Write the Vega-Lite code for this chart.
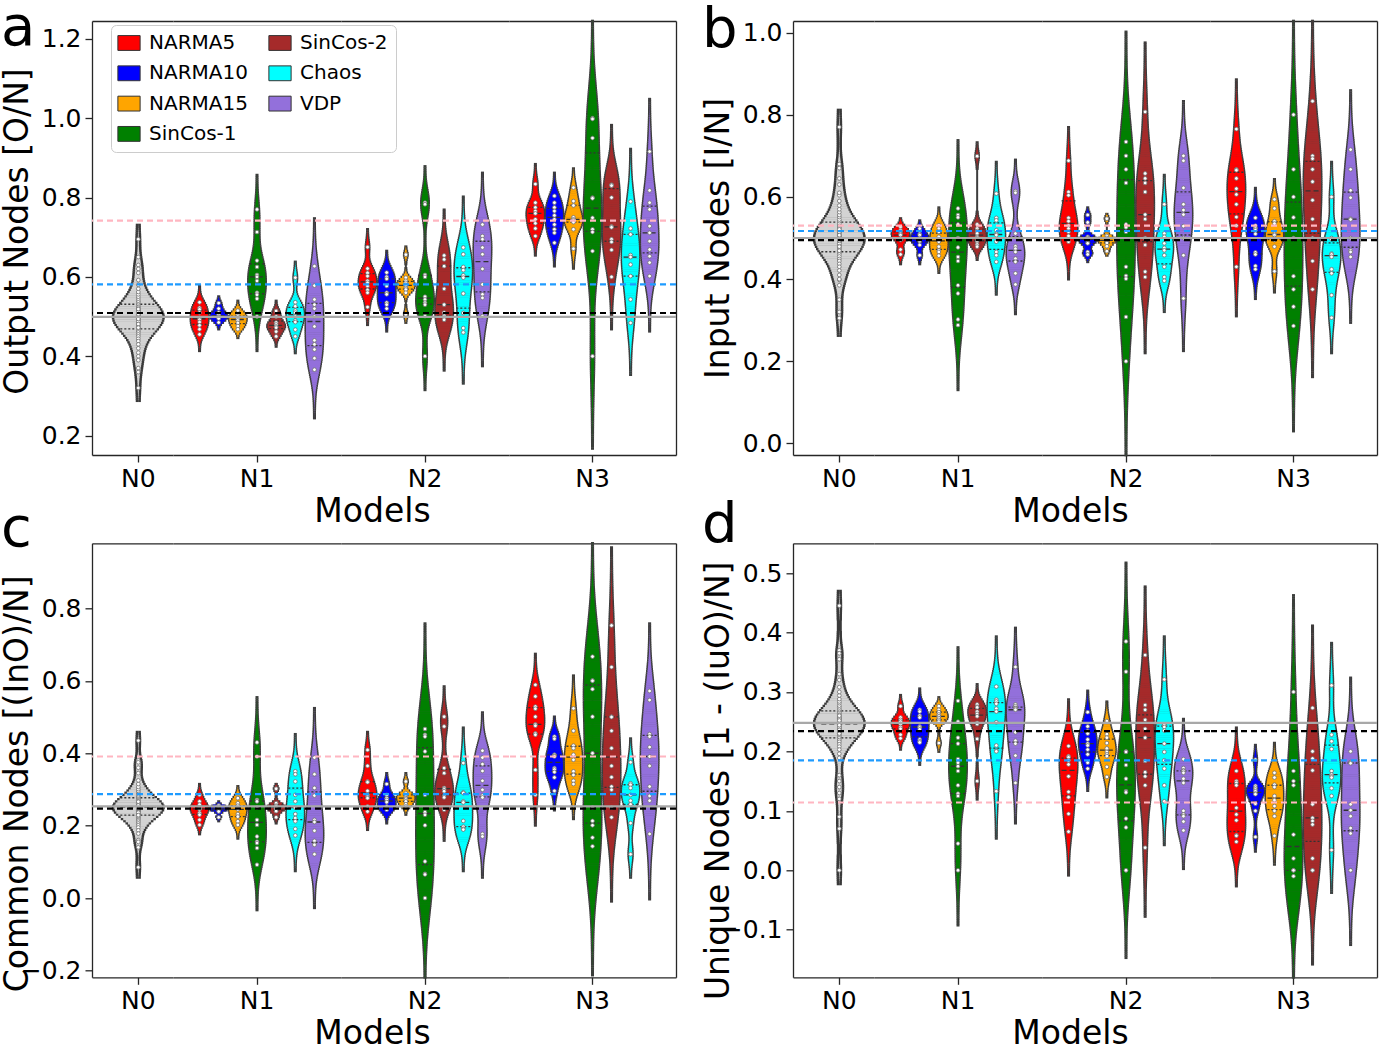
{"$schema":"https://vega.github.io/schema/vega-lite/v6.json","background":"white","padding":{"left":0,"top":0,"right":0,"bottom":0},
"config":{"font":"DejaVu Sans","view":{"stroke":null},"axis":{"labelFont":"DejaVu Sans","labelFontSize":25,"labelColor":"#000000","titleFont":"DejaVu Sans","titleFontSize":33,"titleFontWeight":"normal","titleColor":"#000000","tickColor":"#262626","tickSize":7,"tickWidth":1.3,"domainColor":"#262626","domainWidth":1.3,"grid":false,"labelPadding":4,"labelOverlap":false},"axisX":{"labelAngle":0},"title":{"font":"DejaVu Sans","fontWeight":"normal","color":"#000000"},"tick":{"orient":"horizontal","thickness":2.6,"opacity":1},"point":{"shape":"circle","size":14,"filled":true,"fill":"#ffffff","stroke":"#6e6e6e","strokeWidth":0.8,"opacity":1},"legend":{"labelFont":"DejaVu Sans"}},
"datasets":{
"refs":[{"p":"a","k":"pink","v":0.742},{"p":"a","k":"blue","v":0.581},{"p":"a","k":"grey","v":0.499},{"p":"a","k":"black","v":0.509},{"p":"b","k":"pink","v":0.53},{"p":"b","k":"blue","v":0.517},{"p":"b","k":"grey","v":0.5},{"p":"b","k":"black","v":0.495},{"p":"c","k":"pink","v":0.391},{"p":"c","k":"blue","v":0.287},{"p":"c","k":"grey","v":0.253},{"p":"c","k":"black","v":0.247},{"p":"d","k":"pink","v":0.114},{"p":"d","k":"blue","v":0.185},{"p":"d","k":"grey","v":0.248},{"p":"d","k":"black","v":0.234}],
"aN0":[{"t":"N0","v":0.5},{"t":"N0","v":0.502},{"t":"N0","v":0.497},{"t":"N0","v":0.505},{"t":"N0","v":0.495},{"t":"N0","v":0.508},{"t":"N0","v":0.492},{"t":"N0","v":0.511},{"t":"N0","v":0.489},{"t":"N0","v":0.514},{"t":"N0","v":0.486},{"t":"N0","v":0.517},{"t":"N0","v":0.483},{"t":"N0","v":0.521},{"t":"N0","v":0.479},{"t":"N0","v":0.524},{"t":"N0","v":0.476},{"t":"N0","v":0.528},{"t":"N0","v":0.472},{"t":"N0","v":0.532},{"t":"N0","v":0.468},{"t":"N0","v":0.536},{"t":"N0","v":0.464},{"t":"N0","v":0.54},{"t":"N0","v":0.46},{"t":"N0","v":0.545},{"t":"N0","v":0.455},{"t":"N0","v":0.55},{"t":"N0","v":0.45},{"t":"N0","v":0.556},{"t":"N0","v":0.444},{"t":"N0","v":0.562},{"t":"N0","v":0.438},{"t":"N0","v":0.57},{"t":"N0","v":0.43},{"t":"N0","v":0.58},{"t":"N0","v":0.42},{"t":"N0","v":0.592},{"t":"N0","v":0.409},{"t":"N0","v":0.499},{"t":"N0","v":0.503},{"t":"N0","v":0.488},{"t":"N0","v":0.513},{"t":"N0","v":0.506},{"t":"N0","v":0.494},{"t":"N0","v":0.481},{"t":"N0","v":0.519},{"t":"N0","v":0.472},{"t":"N0","v":0.695},{"t":"N0","v":0.65},{"t":"N0","v":0.63},{"t":"N0","v":0.62},{"t":"N0","v":0.61},{"t":"N0","v":0.4},{"t":"N0","v":0.39},{"t":"N0","v":0.37},{"t":"N0","v":0.36},{"t":"N0","v":0.32}],
"aN1":[{"t":"NARMA5","v":0.536},{"t":"NARMA5","v":0.522},{"t":"NARMA5","v":0.518},{"t":"NARMA5","v":0.51},{"t":"NARMA5","v":0.497},{"t":"NARMA5","v":0.492},{"t":"NARMA5","v":0.486},{"t":"NARMA5","v":0.478},{"t":"NARMA5","v":0.468},{"t":"NARMA5","v":0.455},{"t":"NARMA10","v":0.534},{"t":"NARMA10","v":0.52},{"t":"NARMA10","v":0.51},{"t":"NARMA10","v":0.505},{"t":"NARMA10","v":0.5},{"t":"NARMA10","v":0.498},{"t":"NARMA10","v":0.495},{"t":"NARMA10","v":0.485},{"t":"NARMA15","v":0.515},{"t":"NARMA15","v":0.505},{"t":"NARMA15","v":0.5},{"t":"NARMA15","v":0.495},{"t":"NARMA15","v":0.49},{"t":"NARMA15","v":0.484},{"t":"NARMA15","v":0.476},{"t":"NARMA15","v":0.468},{"t":"SinCos-1","v":0.77},{"t":"SinCos-1","v":0.713},{"t":"SinCos-1","v":0.641},{"t":"SinCos-1","v":0.625},{"t":"SinCos-1","v":0.605},{"t":"SinCos-1","v":0.6},{"t":"SinCos-1","v":0.59},{"t":"SinCos-1","v":0.56},{"t":"SinCos-1","v":0.555},{"t":"SinCos-1","v":0.545},{"t":"SinCos-1","v":0.5},{"t":"SinCos-2","v":0.514},{"t":"SinCos-2","v":0.5},{"t":"SinCos-2","v":0.485},{"t":"SinCos-2","v":0.48},{"t":"SinCos-2","v":0.475},{"t":"SinCos-2","v":0.472},{"t":"SinCos-2","v":0.462},{"t":"SinCos-2","v":0.45},{"t":"Chaos","v":0.598},{"t":"Chaos","v":0.536},{"t":"Chaos","v":0.526},{"t":"Chaos","v":0.515},{"t":"Chaos","v":0.51},{"t":"Chaos","v":0.5},{"t":"Chaos","v":0.49},{"t":"Chaos","v":0.486},{"t":"Chaos","v":0.467},{"t":"Chaos","v":0.45},{"t":"VDP","v":0.627},{"t":"VDP","v":0.578},{"t":"VDP","v":0.543},{"t":"VDP","v":0.53},{"t":"VDP","v":0.52},{"t":"VDP","v":0.5},{"t":"VDP","v":0.475},{"t":"VDP","v":0.44},{"t":"VDP","v":0.43},{"t":"VDP","v":0.417},{"t":"VDP","v":0.395},{"t":"VDP","v":0.366}],
"aN2":[{"t":"NARMA5","v":0.675},{"t":"NARMA5","v":0.621},{"t":"NARMA5","v":0.61},{"t":"NARMA5","v":0.602},{"t":"NARMA5","v":0.59},{"t":"NARMA5","v":0.585},{"t":"NARMA5","v":0.577},{"t":"NARMA5","v":0.567},{"t":"NARMA5","v":0.56},{"t":"NARMA5","v":0.524},{"t":"NARMA10","v":0.611},{"t":"NARMA10","v":0.6},{"t":"NARMA10","v":0.595},{"t":"NARMA10","v":0.577},{"t":"NARMA10","v":0.56},{"t":"NARMA10","v":0.556},{"t":"NARMA10","v":0.535},{"t":"NARMA10","v":0.53},{"t":"NARMA10","v":0.52},{"t":"NARMA15","v":0.656},{"t":"NARMA15","v":0.598},{"t":"NARMA15","v":0.59},{"t":"NARMA15","v":0.585},{"t":"NARMA15","v":0.58},{"t":"NARMA15","v":0.577},{"t":"NARMA15","v":0.572},{"t":"NARMA15","v":0.568},{"t":"NARMA15","v":0.56},{"t":"NARMA15","v":0.505},{"t":"SinCos-1","v":0.787},{"t":"SinCos-1","v":0.783},{"t":"SinCos-1","v":0.605},{"t":"SinCos-1","v":0.6},{"t":"SinCos-1","v":0.55},{"t":"SinCos-1","v":0.543},{"t":"SinCos-1","v":0.535},{"t":"SinCos-1","v":0.53},{"t":"SinCos-1","v":0.501},{"t":"SinCos-1","v":0.4},{"t":"SinCos-2","v":0.654},{"t":"SinCos-2","v":0.644},{"t":"SinCos-2","v":0.627},{"t":"SinCos-2","v":0.57},{"t":"SinCos-2","v":0.53},{"t":"SinCos-2","v":0.51},{"t":"SinCos-2","v":0.502},{"t":"SinCos-2","v":0.497},{"t":"SinCos-2","v":0.492},{"t":"Chaos","v":0.674},{"t":"Chaos","v":0.657},{"t":"Chaos","v":0.625},{"t":"Chaos","v":0.617},{"t":"Chaos","v":0.604},{"t":"Chaos","v":0.598},{"t":"Chaos","v":0.558},{"t":"Chaos","v":0.509},{"t":"Chaos","v":0.471},{"t":"Chaos","v":0.46},{"t":"VDP","v":0.732},{"t":"VDP","v":0.703},{"t":"VDP","v":0.695},{"t":"VDP","v":0.674},{"t":"VDP","v":0.657},{"t":"VDP","v":0.62},{"t":"VDP","v":0.581},{"t":"VDP","v":0.556},{"t":"VDP","v":0.547},{"t":"VDP","v":0.501}],
"aN3":[{"t":"NARMA5","v":0.834},{"t":"NARMA5","v":0.787},{"t":"NARMA5","v":0.775},{"t":"NARMA5","v":0.766},{"t":"NARMA5","v":0.76},{"t":"NARMA5","v":0.745},{"t":"NARMA5","v":0.735},{"t":"NARMA5","v":0.722},{"t":"NARMA5","v":0.703},{"t":"NARMA10","v":0.804},{"t":"NARMA10","v":0.787},{"t":"NARMA10","v":0.775},{"t":"NARMA10","v":0.766},{"t":"NARMA10","v":0.755},{"t":"NARMA10","v":0.745},{"t":"NARMA10","v":0.732},{"t":"NARMA10","v":0.72},{"t":"NARMA10","v":0.711},{"t":"NARMA10","v":0.686},{"t":"NARMA15","v":0.825},{"t":"NARMA15","v":0.791},{"t":"NARMA15","v":0.78},{"t":"NARMA15","v":0.75},{"t":"NARMA15","v":0.745},{"t":"NARMA15","v":0.742},{"t":"NARMA15","v":0.738},{"t":"NARMA15","v":0.72},{"t":"NARMA15","v":0.671},{"t":"SinCos-1","v":1.0},{"t":"SinCos-1","v":0.998},{"t":"SinCos-1","v":0.95},{"t":"SinCos-1","v":0.8},{"t":"SinCos-1","v":0.798},{"t":"SinCos-1","v":0.749},{"t":"SinCos-1","v":0.72},{"t":"SinCos-1","v":0.713},{"t":"SinCos-1","v":0.665},{"t":"SinCos-1","v":0.4},{"t":"SinCos-2","v":0.832},{"t":"SinCos-2","v":0.832},{"t":"SinCos-2","v":0.83},{"t":"SinCos-2","v":0.8},{"t":"SinCos-2","v":0.727},{"t":"SinCos-2","v":0.725},{"t":"SinCos-2","v":0.695},{"t":"SinCos-2","v":0.688},{"t":"SinCos-2","v":0.668},{"t":"SinCos-2","v":0.6},{"t":"Chaos","v":0.79},{"t":"Chaos","v":0.722},{"t":"Chaos","v":0.707},{"t":"Chaos","v":0.655},{"t":"Chaos","v":0.65},{"t":"Chaos","v":0.631},{"t":"Chaos","v":0.602},{"t":"Chaos","v":0.543},{"t":"Chaos","v":0.484},{"t":"VDP","v":0.916},{"t":"VDP","v":0.818},{"t":"VDP","v":0.787},{"t":"VDP","v":0.77},{"t":"VDP","v":0.728},{"t":"VDP","v":0.711},{"t":"VDP","v":0.69},{"t":"VDP","v":0.669},{"t":"VDP","v":0.652},{"t":"VDP","v":0.636},{"t":"VDP","v":0.602}],
"bN0":[{"t":"N0","v":0.5},{"t":"N0","v":0.502},{"t":"N0","v":0.497},{"t":"N0","v":0.506},{"t":"N0","v":0.494},{"t":"N0","v":0.509},{"t":"N0","v":0.491},{"t":"N0","v":0.512},{"t":"N0","v":0.488},{"t":"N0","v":0.516},{"t":"N0","v":0.484},{"t":"N0","v":0.519},{"t":"N0","v":0.481},{"t":"N0","v":0.524},{"t":"N0","v":0.476},{"t":"N0","v":0.527},{"t":"N0","v":0.473},{"t":"N0","v":0.532},{"t":"N0","v":0.469},{"t":"N0","v":0.536},{"t":"N0","v":0.464},{"t":"N0","v":0.541},{"t":"N0","v":0.46},{"t":"N0","v":0.545},{"t":"N0","v":0.455},{"t":"N0","v":0.551},{"t":"N0","v":0.449},{"t":"N0","v":0.556},{"t":"N0","v":0.444},{"t":"N0","v":0.563},{"t":"N0","v":0.437},{"t":"N0","v":0.57},{"t":"N0","v":0.43},{"t":"N0","v":0.579},{"t":"N0","v":0.421},{"t":"N0","v":0.59},{"t":"N0","v":0.41},{"t":"N0","v":0.604},{"t":"N0","v":0.398},{"t":"N0","v":0.499},{"t":"N0","v":0.503},{"t":"N0","v":0.487},{"t":"N0","v":0.515},{"t":"N0","v":0.507},{"t":"N0","v":0.493},{"t":"N0","v":0.479},{"t":"N0","v":0.521},{"t":"N0","v":0.469},{"t":"N0","v":0.77},{"t":"N0","v":0.68},{"t":"N0","v":0.67},{"t":"N0","v":0.645},{"t":"N0","v":0.63},{"t":"N0","v":0.61},{"t":"N0","v":0.4},{"t":"N0","v":0.385},{"t":"N0","v":0.35},{"t":"N0","v":0.32},{"t":"N0","v":0.305}],
"bN1":[{"t":"NARMA5","v":0.527},{"t":"NARMA5","v":0.519},{"t":"NARMA5","v":0.515},{"t":"NARMA5","v":0.51},{"t":"NARMA5","v":0.507},{"t":"NARMA5","v":0.5},{"t":"NARMA5","v":0.495},{"t":"NARMA5","v":0.472},{"t":"NARMA5","v":0.46},{"t":"NARMA10","v":0.523},{"t":"NARMA10","v":0.51},{"t":"NARMA10","v":0.507},{"t":"NARMA10","v":0.5},{"t":"NARMA10","v":0.495},{"t":"NARMA10","v":0.492},{"t":"NARMA10","v":0.483},{"t":"NARMA10","v":0.458},{"t":"NARMA15","v":0.531},{"t":"NARMA15","v":0.523},{"t":"NARMA15","v":0.515},{"t":"NARMA15","v":0.503},{"t":"NARMA15","v":0.495},{"t":"NARMA15","v":0.491},{"t":"NARMA15","v":0.479},{"t":"NARMA15","v":0.47},{"t":"NARMA15","v":0.466},{"t":"NARMA15","v":0.457},{"t":"SinCos-1","v":0.572},{"t":"SinCos-1","v":0.556},{"t":"SinCos-1","v":0.55},{"t":"SinCos-1","v":0.533},{"t":"SinCos-1","v":0.5},{"t":"SinCos-1","v":0.477},{"t":"SinCos-1","v":0.454},{"t":"SinCos-1","v":0.444},{"t":"SinCos-1","v":0.385},{"t":"SinCos-1","v":0.365},{"t":"SinCos-1","v":0.302},{"t":"SinCos-1","v":0.288},{"t":"SinCos-2","v":0.699},{"t":"SinCos-2","v":0.533},{"t":"SinCos-2","v":0.523},{"t":"SinCos-2","v":0.517},{"t":"SinCos-2","v":0.511},{"t":"SinCos-2","v":0.503},{"t":"SinCos-2","v":0.5},{"t":"SinCos-2","v":0.491},{"t":"SinCos-2","v":0.484},{"t":"SinCos-2","v":0.479},{"t":"Chaos","v":0.608},{"t":"Chaos","v":0.549},{"t":"Chaos","v":0.543},{"t":"Chaos","v":0.519},{"t":"Chaos","v":0.51},{"t":"Chaos","v":0.507},{"t":"Chaos","v":0.491},{"t":"Chaos","v":0.466},{"t":"Chaos","v":0.458},{"t":"Chaos","v":0.442},{"t":"VDP","v":0.614},{"t":"VDP","v":0.61},{"t":"VDP","v":0.511},{"t":"VDP","v":0.48},{"t":"VDP","v":0.474},{"t":"VDP","v":0.466},{"t":"VDP","v":0.45},{"t":"VDP","v":0.442},{"t":"VDP","v":0.414},{"t":"VDP","v":0.387}],
"bN2":[{"t":"NARMA5","v":0.688},{"t":"NARMA5","v":0.612},{"t":"NARMA5","v":0.604},{"t":"NARMA5","v":0.549},{"t":"NARMA5","v":0.541},{"t":"NARMA5","v":0.53},{"t":"NARMA5","v":0.523},{"t":"NARMA5","v":0.515},{"t":"NARMA5","v":0.505},{"t":"NARMA5","v":0.491},{"t":"NARMA10","v":0.556},{"t":"NARMA10","v":0.538},{"t":"NARMA10","v":0.503},{"t":"NARMA10","v":0.5},{"t":"NARMA10","v":0.497},{"t":"NARMA10","v":0.49},{"t":"NARMA10","v":0.487},{"t":"NARMA10","v":0.466},{"t":"NARMA10","v":0.46},{"t":"NARMA15","v":0.547},{"t":"NARMA15","v":0.505},{"t":"NARMA15","v":0.5},{"t":"NARMA15","v":0.497},{"t":"NARMA15","v":0.494},{"t":"NARMA15","v":0.491},{"t":"NARMA15","v":0.488},{"t":"NARMA15","v":0.48},{"t":"NARMA15","v":0.468},{"t":"SinCos-1","v":0.734},{"t":"SinCos-1","v":0.7},{"t":"SinCos-1","v":0.667},{"t":"SinCos-1","v":0.634},{"t":"SinCos-1","v":0.533},{"t":"SinCos-1","v":0.526},{"t":"SinCos-1","v":0.515},{"t":"SinCos-1","v":0.43},{"t":"SinCos-1","v":0.408},{"t":"SinCos-1","v":0.401},{"t":"SinCos-1","v":0.308},{"t":"SinCos-1","v":0.2},{"t":"SinCos-2","v":0.807},{"t":"SinCos-2","v":0.657},{"t":"SinCos-2","v":0.645},{"t":"SinCos-2","v":0.634},{"t":"SinCos-2","v":0.612},{"t":"SinCos-2","v":0.557},{"t":"SinCos-2","v":0.546},{"t":"SinCos-2","v":0.5},{"t":"SinCos-2","v":0.483},{"t":"SinCos-2","v":0.418},{"t":"SinCos-2","v":0.405},{"t":"Chaos","v":0.582},{"t":"Chaos","v":0.511},{"t":"Chaos","v":0.503},{"t":"Chaos","v":0.487},{"t":"Chaos","v":0.476},{"t":"Chaos","v":0.47},{"t":"Chaos","v":0.458},{"t":"Chaos","v":0.43},{"t":"Chaos","v":0.405},{"t":"Chaos","v":0.396},{"t":"VDP","v":0.7},{"t":"VDP","v":0.688},{"t":"VDP","v":0.622},{"t":"VDP","v":0.582},{"t":"VDP","v":0.568},{"t":"VDP","v":0.557},{"t":"VDP","v":0.529},{"t":"VDP","v":0.5},{"t":"VDP","v":0.458},{"t":"VDP","v":0.353}],
"bN3":[{"t":"NARMA5","v":0.765},{"t":"NARMA5","v":0.667},{"t":"NARMA5","v":0.665},{"t":"NARMA5","v":0.645},{"t":"NARMA5","v":0.62},{"t":"NARMA5","v":0.606},{"t":"NARMA5","v":0.582},{"t":"NARMA5","v":0.551},{"t":"NARMA5","v":0.53},{"t":"NARMA5","v":0.43},{"t":"NARMA10","v":0.549},{"t":"NARMA10","v":0.53},{"t":"NARMA10","v":0.525},{"t":"NARMA10","v":0.523},{"t":"NARMA10","v":0.519},{"t":"NARMA10","v":0.51},{"t":"NARMA10","v":0.465},{"t":"NARMA10","v":0.46},{"t":"NARMA10","v":0.432},{"t":"NARMA10","v":0.424},{"t":"NARMA15","v":0.594},{"t":"NARMA15","v":0.572},{"t":"NARMA15","v":0.541},{"t":"NARMA15","v":0.535},{"t":"NARMA15","v":0.51},{"t":"NARMA15","v":0.507},{"t":"NARMA15","v":0.5},{"t":"NARMA15","v":0.495},{"t":"NARMA15","v":0.479},{"t":"NARMA15","v":0.419},{"t":"SinCos-1","v":0.8},{"t":"SinCos-1","v":0.667},{"t":"SinCos-1","v":0.6},{"t":"SinCos-1","v":0.55},{"t":"SinCos-1","v":0.5},{"t":"SinCos-1","v":0.498},{"t":"SinCos-1","v":0.407},{"t":"SinCos-1","v":0.375},{"t":"SinCos-1","v":0.333},{"t":"SinCos-1","v":0.286},{"t":"SinCos-2","v":0.833},{"t":"SinCos-2","v":0.7},{"t":"SinCos-2","v":0.693},{"t":"SinCos-2","v":0.667},{"t":"SinCos-2","v":0.637},{"t":"SinCos-2","v":0.592},{"t":"SinCos-2","v":0.546},{"t":"SinCos-2","v":0.5},{"t":"SinCos-2","v":0.444},{"t":"SinCos-2","v":0.375},{"t":"Chaos","v":0.6},{"t":"Chaos","v":0.5},{"t":"Chaos","v":0.497},{"t":"Chaos","v":0.462},{"t":"Chaos","v":0.46},{"t":"Chaos","v":0.454},{"t":"Chaos","v":0.424},{"t":"Chaos","v":0.414},{"t":"Chaos","v":0.361},{"t":"Chaos","v":0.306},{"t":"VDP","v":0.715},{"t":"VDP","v":0.667},{"t":"VDP","v":0.616},{"t":"VDP","v":0.598},{"t":"VDP","v":0.547},{"t":"VDP","v":0.545},{"t":"VDP","v":0.5},{"t":"VDP","v":0.47},{"t":"VDP","v":0.466},{"t":"VDP","v":0.454}],
"cN0":[{"t":"N0","v":0.251},{"t":"N0","v":0.253},{"t":"N0","v":0.249},{"t":"N0","v":0.255},{"t":"N0","v":0.247},{"t":"N0","v":0.257},{"t":"N0","v":0.245},{"t":"N0","v":0.26},{"t":"N0","v":0.242},{"t":"N0","v":0.262},{"t":"N0","v":0.24},{"t":"N0","v":0.265},{"t":"N0","v":0.237},{"t":"N0","v":0.268},{"t":"N0","v":0.234},{"t":"N0","v":0.27},{"t":"N0","v":0.232},{"t":"N0","v":0.273},{"t":"N0","v":0.229},{"t":"N0","v":0.277},{"t":"N0","v":0.225},{"t":"N0","v":0.28},{"t":"N0","v":0.222},{"t":"N0","v":0.283},{"t":"N0","v":0.219},{"t":"N0","v":0.287},{"t":"N0","v":0.215},{"t":"N0","v":0.291},{"t":"N0","v":0.211},{"t":"N0","v":0.296},{"t":"N0","v":0.206},{"t":"N0","v":0.301},{"t":"N0","v":0.201},{"t":"N0","v":0.307},{"t":"N0","v":0.195},{"t":"N0","v":0.315},{"t":"N0","v":0.187},{"t":"N0","v":0.325},{"t":"N0","v":0.178},{"t":"N0","v":0.25},{"t":"N0","v":0.253},{"t":"N0","v":0.241},{"t":"N0","v":0.261},{"t":"N0","v":0.256},{"t":"N0","v":0.246},{"t":"N0","v":0.236},{"t":"N0","v":0.266},{"t":"N0","v":0.229},{"t":"N0","v":0.435},{"t":"N0","v":0.38},{"t":"N0","v":0.375},{"t":"N0","v":0.36},{"t":"N0","v":0.345},{"t":"N0","v":0.16},{"t":"N0","v":0.155},{"t":"N0","v":0.14},{"t":"N0","v":0.085}],
"cN1":[{"t":"NARMA5","v":0.285},{"t":"NARMA5","v":0.267},{"t":"NARMA5","v":0.258},{"t":"NARMA5","v":0.25},{"t":"NARMA5","v":0.248},{"t":"NARMA5","v":0.245},{"t":"NARMA5","v":0.235},{"t":"NARMA5","v":0.23},{"t":"NARMA5","v":0.216},{"t":"NARMA5","v":0.202},{"t":"NARMA10","v":0.256},{"t":"NARMA10","v":0.252},{"t":"NARMA10","v":0.248},{"t":"NARMA10","v":0.246},{"t":"NARMA10","v":0.244},{"t":"NARMA10","v":0.239},{"t":"NARMA10","v":0.223},{"t":"NARMA15","v":0.276},{"t":"NARMA15","v":0.262},{"t":"NARMA15","v":0.255},{"t":"NARMA15","v":0.248},{"t":"NARMA15","v":0.245},{"t":"NARMA15","v":0.232},{"t":"NARMA15","v":0.225},{"t":"NARMA15","v":0.212},{"t":"NARMA15","v":0.202},{"t":"SinCos-1","v":0.43},{"t":"SinCos-1","v":0.391},{"t":"SinCos-1","v":0.271},{"t":"SinCos-1","v":0.267},{"t":"SinCos-1","v":0.25},{"t":"SinCos-1","v":0.216},{"t":"SinCos-1","v":0.202},{"t":"SinCos-1","v":0.17},{"t":"SinCos-1","v":0.156},{"t":"SinCos-1","v":0.152},{"t":"SinCos-1","v":0.138},{"t":"SinCos-1","v":0.092},{"t":"SinCos-2","v":0.302},{"t":"SinCos-2","v":0.262},{"t":"SinCos-2","v":0.255},{"t":"SinCos-2","v":0.253},{"t":"SinCos-2","v":0.248},{"t":"SinCos-2","v":0.244},{"t":"SinCos-2","v":0.24},{"t":"SinCos-2","v":0.223},{"t":"Chaos","v":0.35},{"t":"Chaos","v":0.342},{"t":"Chaos","v":0.322},{"t":"Chaos","v":0.285},{"t":"Chaos","v":0.267},{"t":"Chaos","v":0.25},{"t":"Chaos","v":0.232},{"t":"Chaos","v":0.221},{"t":"Chaos","v":0.212},{"t":"Chaos","v":0.191},{"t":"Chaos","v":0.173},{"t":"VDP","v":0.388},{"t":"VDP","v":0.342},{"t":"VDP","v":0.304},{"t":"VDP","v":0.283},{"t":"VDP","v":0.216},{"t":"VDP","v":0.21},{"t":"VDP","v":0.186},{"t":"VDP","v":0.158},{"t":"VDP","v":0.149},{"t":"VDP","v":0.147},{"t":"VDP","v":0.121}],
"cN2":[{"t":"NARMA5","v":0.409},{"t":"NARMA5","v":0.365},{"t":"NARMA5","v":0.322},{"t":"NARMA5","v":0.32},{"t":"NARMA5","v":0.296},{"t":"NARMA5","v":0.285},{"t":"NARMA5","v":0.28},{"t":"NARMA5","v":0.276},{"t":"NARMA5","v":0.253},{"t":"NARMA5","v":0.239},{"t":"NARMA10","v":0.315},{"t":"NARMA10","v":0.285},{"t":"NARMA10","v":0.276},{"t":"NARMA10","v":0.271},{"t":"NARMA10","v":0.265},{"t":"NARMA10","v":0.253},{"t":"NARMA10","v":0.246},{"t":"NARMA10","v":0.244},{"t":"NARMA15","v":0.322},{"t":"NARMA15","v":0.29},{"t":"NARMA15","v":0.285},{"t":"NARMA15","v":0.28},{"t":"NARMA15","v":0.276},{"t":"NARMA15","v":0.272},{"t":"NARMA15","v":0.267},{"t":"NARMA15","v":0.259},{"t":"NARMA15","v":0.253},{"t":"SinCos-1","v":0.467},{"t":"SinCos-1","v":0.451},{"t":"SinCos-1","v":0.446},{"t":"SinCos-1","v":0.405},{"t":"SinCos-1","v":0.285},{"t":"SinCos-1","v":0.237},{"t":"SinCos-1","v":0.23},{"t":"SinCos-1","v":0.201},{"t":"SinCos-1","v":0.101},{"t":"SinCos-1","v":0.067},{"t":"SinCos-1","v":0.065},{"t":"SinCos-1","v":0.0},{"t":"SinCos-2","v":0.501},{"t":"SinCos-2","v":0.474},{"t":"SinCos-2","v":0.359},{"t":"SinCos-2","v":0.345},{"t":"SinCos-2","v":0.304},{"t":"SinCos-2","v":0.3},{"t":"SinCos-2","v":0.295},{"t":"SinCos-2","v":0.282},{"t":"SinCos-2","v":0.278},{"t":"SinCos-2","v":0.244},{"t":"Chaos","v":0.373},{"t":"Chaos","v":0.292},{"t":"Chaos","v":0.29},{"t":"Chaos","v":0.267},{"t":"Chaos","v":0.264},{"t":"Chaos","v":0.213},{"t":"Chaos","v":0.197},{"t":"Chaos","v":0.191},{"t":"Chaos","v":0.189},{"t":"VDP","v":0.407},{"t":"VDP","v":0.388},{"t":"VDP","v":0.37},{"t":"VDP","v":0.351},{"t":"VDP","v":0.324},{"t":"VDP","v":0.299},{"t":"VDP","v":0.283},{"t":"VDP","v":0.278},{"t":"VDP","v":0.177},{"t":"VDP","v":0.17}],
"cN3":[{"t":"NARMA5","v":0.589},{"t":"NARMA5","v":0.557},{"t":"NARMA5","v":0.529},{"t":"NARMA5","v":0.523},{"t":"NARMA5","v":0.501},{"t":"NARMA5","v":0.48},{"t":"NARMA5","v":0.476},{"t":"NARMA5","v":0.455},{"t":"NARMA5","v":0.451},{"t":"NARMA5","v":0.354},{"t":"NARMA5","v":0.285},{"t":"NARMA10","v":0.446},{"t":"NARMA10","v":0.44},{"t":"NARMA10","v":0.396},{"t":"NARMA10","v":0.393},{"t":"NARMA10","v":0.391},{"t":"NARMA10","v":0.359},{"t":"NARMA10","v":0.355},{"t":"NARMA10","v":0.348},{"t":"NARMA10","v":0.333},{"t":"NARMA10","v":0.296},{"t":"NARMA15","v":0.524},{"t":"NARMA15","v":0.462},{"t":"NARMA15","v":0.421},{"t":"NARMA15","v":0.414},{"t":"NARMA15","v":0.396},{"t":"NARMA15","v":0.382},{"t":"NARMA15","v":0.35},{"t":"NARMA15","v":0.34},{"t":"NARMA15","v":0.324},{"t":"NARMA15","v":0.315},{"t":"SinCos-1","v":0.667},{"t":"SinCos-1","v":0.601},{"t":"SinCos-1","v":0.6},{"t":"SinCos-1","v":0.577},{"t":"SinCos-1","v":0.501},{"t":"SinCos-1","v":0.4},{"t":"SinCos-1","v":0.25},{"t":"SinCos-1","v":0.213},{"t":"SinCos-1","v":0.201},{"t":"SinCos-1","v":0.167},{"t":"SinCos-1","v":0.143},{"t":"SinCos-2","v":0.753},{"t":"SinCos-2","v":0.638},{"t":"SinCos-2","v":0.501},{"t":"SinCos-2","v":0.5},{"t":"SinCos-2","v":0.462},{"t":"SinCos-2","v":0.414},{"t":"SinCos-2","v":0.365},{"t":"SinCos-2","v":0.334},{"t":"SinCos-2","v":0.308},{"t":"SinCos-2","v":0.299},{"t":"SinCos-2","v":0.25},{"t":"SinCos-2","v":0.223},{"t":"Chaos","v":0.375},{"t":"Chaos","v":0.317},{"t":"Chaos","v":0.313},{"t":"Chaos","v":0.304},{"t":"Chaos","v":0.285},{"t":"Chaos","v":0.269},{"t":"Chaos","v":0.259},{"t":"Chaos","v":0.207},{"t":"Chaos","v":0.121},{"t":"VDP","v":0.572},{"t":"VDP","v":0.547},{"t":"VDP","v":0.453},{"t":"VDP","v":0.446},{"t":"VDP","v":0.417},{"t":"VDP","v":0.391},{"t":"VDP","v":0.365},{"t":"VDP","v":0.308},{"t":"VDP","v":0.282},{"t":"VDP","v":0.269},{"t":"VDP","v":0.177}],
"dN0":[{"t":"N0","v":0.248},{"t":"N0","v":0.249},{"t":"N0","v":0.246},{"t":"N0","v":0.251},{"t":"N0","v":0.245},{"t":"N0","v":0.253},{"t":"N0","v":0.243},{"t":"N0","v":0.255},{"t":"N0","v":0.241},{"t":"N0","v":0.257},{"t":"N0","v":0.239},{"t":"N0","v":0.259},{"t":"N0","v":0.237},{"t":"N0","v":0.262},{"t":"N0","v":0.234},{"t":"N0","v":0.264},{"t":"N0","v":0.232},{"t":"N0","v":0.266},{"t":"N0","v":0.23},{"t":"N0","v":0.269},{"t":"N0","v":0.227},{"t":"N0","v":0.271},{"t":"N0","v":0.225},{"t":"N0","v":0.274},{"t":"N0","v":0.222},{"t":"N0","v":0.277},{"t":"N0","v":0.219},{"t":"N0","v":0.281},{"t":"N0","v":0.216},{"t":"N0","v":0.284},{"t":"N0","v":0.212},{"t":"N0","v":0.288},{"t":"N0","v":0.208},{"t":"N0","v":0.294},{"t":"N0","v":0.203},{"t":"N0","v":0.3},{"t":"N0","v":0.196},{"t":"N0","v":0.308},{"t":"N0","v":0.189},{"t":"N0","v":0.247},{"t":"N0","v":0.25},{"t":"N0","v":0.24},{"t":"N0","v":0.256},{"t":"N0","v":0.252},{"t":"N0","v":0.244},{"t":"N0","v":0.236},{"t":"N0","v":0.26},{"t":"N0","v":0.23},{"t":"N0","v":0.445},{"t":"N0","v":0.37},{"t":"N0","v":0.365},{"t":"N0","v":0.355},{"t":"N0","v":0.33},{"t":"N0","v":0.32},{"t":"N0","v":0.16},{"t":"N0","v":0.15},{"t":"N0","v":0.14},{"t":"N0","v":0.13},{"t":"N0","v":0.12},{"t":"N0","v":0.09},{"t":"N0","v":0.07},{"t":"N0","v":0.0}],
"dN1":[{"t":"NARMA5","v":0.276},{"t":"NARMA5","v":0.257},{"t":"NARMA5","v":0.253},{"t":"NARMA5","v":0.25},{"t":"NARMA5","v":0.246},{"t":"NARMA5","v":0.241},{"t":"NARMA5","v":0.238},{"t":"NARMA5","v":0.228},{"t":"NARMA5","v":0.222},{"t":"NARMA10","v":0.27},{"t":"NARMA10","v":0.267},{"t":"NARMA10","v":0.26},{"t":"NARMA10","v":0.257},{"t":"NARMA10","v":0.242},{"t":"NARMA10","v":0.24},{"t":"NARMA10","v":0.237},{"t":"NARMA10","v":0.22},{"t":"NARMA10","v":0.217},{"t":"NARMA10","v":0.215},{"t":"NARMA15","v":0.276},{"t":"NARMA15","v":0.27},{"t":"NARMA15","v":0.266},{"t":"NARMA15","v":0.262},{"t":"NARMA15","v":0.259},{"t":"NARMA15","v":0.256},{"t":"NARMA15","v":0.253},{"t":"NARMA15","v":0.25},{"t":"NARMA15","v":0.214},{"t":"SinCos-1","v":0.285},{"t":"SinCos-1","v":0.25},{"t":"SinCos-1","v":0.223},{"t":"SinCos-1","v":0.213},{"t":"SinCos-1","v":0.187},{"t":"SinCos-1","v":0.181},{"t":"SinCos-1","v":0.175},{"t":"SinCos-1","v":0.167},{"t":"SinCos-1","v":0.143},{"t":"SinCos-1","v":0.129},{"t":"SinCos-1","v":0.125},{"t":"SinCos-1","v":0.045},{"t":"SinCos-1","v":0.0},{"t":"SinCos-2","v":0.279},{"t":"SinCos-2","v":0.275},{"t":"SinCos-2","v":0.274},{"t":"SinCos-2","v":0.267},{"t":"SinCos-2","v":0.263},{"t":"SinCos-2","v":0.259},{"t":"SinCos-2","v":0.248},{"t":"SinCos-2","v":0.246},{"t":"SinCos-2","v":0.221},{"t":"SinCos-2","v":0.15},{"t":"Chaos","v":0.309},{"t":"Chaos","v":0.287},{"t":"Chaos","v":0.284},{"t":"Chaos","v":0.28},{"t":"Chaos","v":0.272},{"t":"Chaos","v":0.267},{"t":"Chaos","v":0.249},{"t":"Chaos","v":0.21},{"t":"Chaos","v":0.201},{"t":"Chaos","v":0.2},{"t":"Chaos","v":0.133},{"t":"VDP","v":0.342},{"t":"VDP","v":0.279},{"t":"VDP","v":0.276},{"t":"VDP","v":0.273},{"t":"VDP","v":0.272},{"t":"VDP","v":0.27},{"t":"VDP","v":0.232},{"t":"VDP","v":0.218},{"t":"VDP","v":0.213},{"t":"VDP","v":0.193},{"t":"VDP","v":0.147}],
"dN2":[{"t":"NARMA5","v":0.209},{"t":"NARMA5","v":0.192},{"t":"NARMA5","v":0.19},{"t":"NARMA5","v":0.185},{"t":"NARMA5","v":0.178},{"t":"NARMA5","v":0.158},{"t":"NARMA5","v":0.132},{"t":"NARMA5","v":0.123},{"t":"NARMA5","v":0.095},{"t":"NARMA5","v":0.065},{"t":"NARMA10","v":0.266},{"t":"NARMA10","v":0.242},{"t":"NARMA10","v":0.234},{"t":"NARMA10","v":0.23},{"t":"NARMA10","v":0.22},{"t":"NARMA10","v":0.213},{"t":"NARMA10","v":0.21},{"t":"NARMA10","v":0.203},{"t":"NARMA10","v":0.195},{"t":"NARMA10","v":0.181},{"t":"NARMA10","v":0.171},{"t":"NARMA15","v":0.251},{"t":"NARMA15","v":0.229},{"t":"NARMA15","v":0.223},{"t":"NARMA15","v":0.214},{"t":"NARMA15","v":0.205},{"t":"NARMA15","v":0.199},{"t":"NARMA15","v":0.195},{"t":"NARMA15","v":0.192},{"t":"NARMA15","v":0.174},{"t":"NARMA15","v":0.157},{"t":"SinCos-1","v":0.385},{"t":"SinCos-1","v":0.334},{"t":"SinCos-1","v":0.2},{"t":"SinCos-1","v":0.199},{"t":"SinCos-1","v":0.177},{"t":"SinCos-1","v":0.154},{"t":"SinCos-1","v":0.133},{"t":"SinCos-1","v":0.131},{"t":"SinCos-1","v":0.087},{"t":"SinCos-1","v":0.072},{"t":"SinCos-1","v":0.0},{"t":"SinCos-1","v":0.0},{"t":"SinCos-2","v":0.362},{"t":"SinCos-2","v":0.278},{"t":"SinCos-2","v":0.27},{"t":"SinCos-2","v":0.253},{"t":"SinCos-2","v":0.238},{"t":"SinCos-2","v":0.223},{"t":"SinCos-2","v":0.184},{"t":"SinCos-2","v":0.165},{"t":"SinCos-2","v":0.158},{"t":"SinCos-2","v":0.143},{"t":"SinCos-2","v":0.038},{"t":"Chaos","v":0.321},{"t":"Chaos","v":0.245},{"t":"Chaos","v":0.244},{"t":"Chaos","v":0.241},{"t":"Chaos","v":0.235},{"t":"Chaos","v":0.213},{"t":"Chaos","v":0.199},{"t":"Chaos","v":0.185},{"t":"Chaos","v":0.171},{"t":"Chaos","v":0.143},{"t":"Chaos","v":0.116},{"t":"VDP","v":0.187},{"t":"VDP","v":0.172},{"t":"VDP","v":0.168},{"t":"VDP","v":0.167},{"t":"VDP","v":0.164},{"t":"VDP","v":0.154},{"t":"VDP","v":0.147},{"t":"VDP","v":0.1},{"t":"VDP","v":0.094},{"t":"VDP","v":0.091},{"t":"VDP","v":0.082},{"t":"VDP","v":0.067}],
"dN3":[{"t":"NARMA5","v":0.167},{"t":"NARMA5","v":0.15},{"t":"NARMA5","v":0.147},{"t":"NARMA5","v":0.143},{"t":"NARMA5","v":0.105},{"t":"NARMA5","v":0.094},{"t":"NARMA5","v":0.084},{"t":"NARMA5","v":0.059},{"t":"NARMA5","v":0.058},{"t":"NARMA5","v":0.048},{"t":"NARMA10","v":0.186},{"t":"NARMA10","v":0.142},{"t":"NARMA10","v":0.139},{"t":"NARMA10","v":0.136},{"t":"NARMA10","v":0.133},{"t":"NARMA10","v":0.129},{"t":"NARMA10","v":0.128},{"t":"NARMA10","v":0.112},{"t":"NARMA10","v":0.1},{"t":"NARMA10","v":0.056},{"t":"NARMA15","v":0.164},{"t":"NARMA15","v":0.156},{"t":"NARMA15","v":0.144},{"t":"NARMA15","v":0.14},{"t":"NARMA15","v":0.125},{"t":"NARMA15","v":0.118},{"t":"NARMA15","v":0.108},{"t":"NARMA15","v":0.1},{"t":"NARMA15","v":0.091},{"t":"NARMA15","v":0.058},{"t":"SinCos-1","v":0.3},{"t":"SinCos-1","v":0.167},{"t":"SinCos-1","v":0.15},{"t":"SinCos-1","v":0.143},{"t":"SinCos-1","v":0.06},{"t":"SinCos-1","v":0.02},{"t":"SinCos-1","v":0.0},{"t":"SinCos-1","v":0.0},{"t":"SinCos-1","v":0.0},{"t":"SinCos-1","v":-0.01},{"t":"SinCos-2","v":0.273},{"t":"SinCos-2","v":0.2},{"t":"SinCos-2","v":0.188},{"t":"SinCos-2","v":0.168},{"t":"SinCos-2","v":0.111},{"t":"SinCos-2","v":0.088},{"t":"SinCos-2","v":0.083},{"t":"SinCos-2","v":0.077},{"t":"SinCos-2","v":0.02},{"t":"SinCos-2","v":0.0},{"t":"SinCos-2","v":0.0},{"t":"Chaos","v":0.311},{"t":"Chaos","v":0.228},{"t":"Chaos","v":0.217},{"t":"Chaos","v":0.204},{"t":"Chaos","v":0.167},{"t":"Chaos","v":0.161},{"t":"Chaos","v":0.158},{"t":"Chaos","v":0.156},{"t":"Chaos","v":0.138},{"t":"Chaos","v":0.125},{"t":"Chaos","v":0.034},{"t":"VDP","v":0.2},{"t":"VDP","v":0.182},{"t":"VDP","v":0.181},{"t":"VDP","v":0.18},{"t":"VDP","v":0.111},{"t":"VDP","v":0.101},{"t":"VDP","v":0.091},{"t":"VDP","v":0.071},{"t":"VDP","v":0.062},{"t":"VDP","v":0.0},{"t":"VDP","v":0.0}]
},
"concat":[
{"width":81,"height":434,"title":{"text":"a","anchor":"start","frame":"bounds","fontSize":56,"baseline":"alphabetic","offset":-80},"layer":[
{"data":{"name":"aN0"},"transform":[{"aggregate":[{"op":"min","field":"v","as":"lo"},{"op":"max","field":"v","as":"hi"}],"groupby":["t"]}],"mark":{"type":"rule","color":"#3a3a3a","strokeWidth":5},"encoding":{"x":{"field":"t","type":"nominal","scale":{"type":"band","domain":["N0"],"paddingInner":0,"paddingOuter":0.25,"align":0.715},"axis":null},"y":{"field":"lo","type":"quantitative","scale":{"domain":[0.151,1.245],"nice":false,"zero":false},"axis":null},"y2":{"field":"hi"}}},
{"data":{"name":"aN0"},"transform":[{"density":"v","groupby":["t"],"extent":[0.151,1.245],"steps":200,"as":["y","d"]},{"joinaggregate":[{"op":"max","field":"d","as":"dm"}],"groupby":["t"]},{"fold":["d","dm"],"as":["key","val"]},{"stack":"val","groupby":["t","y"],"sort":[{"field":"key","order":"ascending"}],"offset":"normalize","as":["s0","s1"]},{"filter":"datum.key == 'd' && datum.s1 > 0.01"}],"layer":[
{"mark":{"type":"tick","color":"#3a3a3a"},"encoding":{"x":{"field":"t","type":"nominal","scale":{"type":"band","domain":["N0"],"paddingInner":0,"paddingOuter":0.25,"align":0.715},"axis":{"orient":"bottom","title":null}},"y":{"field":"y","type":"quantitative","scale":{"domain":[0.151,1.245],"nice":false,"zero":false},"axis":{"orient":"left","title":"Output Nodes [O/N]","values":[0.2,0.4,0.6,0.8,1.0,1.2],"format":".1f","titleX":-58,"titleY":210,"titleAngle":270,"titleBaseline":"bottom","titleAlign":"center"}},"size":{"field":"s1","type":"quantitative","scale":{"type":"pow","exponent":1.6,"domain":[0,0.5],"range":[5,53]},"legend":null}}},
{"mark":{"type":"tick","color":"#d3d3d3"},"encoding":{"x":{"field":"t","type":"nominal","scale":{"type":"band","domain":["N0"],"paddingInner":0,"paddingOuter":0.25,"align":0.715},"axis":{"orient":"bottom","title":null}},"y":{"field":"y","type":"quantitative","scale":{"domain":[0.151,1.245],"nice":false,"zero":false},"axis":{"orient":"left","title":"Output Nodes [O/N]","values":[0.2,0.4,0.6,0.8,1.0,1.2],"format":".1f","titleX":-58,"titleY":210,"titleAngle":270,"titleBaseline":"bottom","titleAlign":"center"}},"size":{"field":"s1","type":"quantitative","scale":{"type":"pow","exponent":1.6,"domain":[0,0.5],"range":[0,48]},"legend":null}}}
],"resolve":{"scale":{"size":"independent"}}},
{"data":{"name":"aN0"},"transform":[{"aggregate":[{"op":"q1","field":"v","as":"q1"},{"op":"median","field":"v","as":"median"},{"op":"q3","field":"v","as":"q3"}],"groupby":["t"]},{"fold":["q1","median","q3"],"as":["qk","qv"]}],"mark":{"type":"rule","color":"#333333","strokeWidth":1.3,"xOffset":-18,"x2Offset":18},"encoding":{"x":{"field":"t","type":"nominal","scale":{"type":"band","domain":["N0"],"paddingInner":0,"paddingOuter":0.25,"align":0.715},"axis":{"orient":"top","labels":false,"ticks":false,"title":null}},"x2":{"field":"t"},"y":{"field":"qv","type":"quantitative","scale":{"domain":[0.151,1.245],"nice":false,"zero":false},"axis":null},"strokeDash":{"field":"qk","type":"nominal","scale":{"domain":["q1","median","q3"],"range":[[2,2],[5,3],[2,2]]},"legend":null}}},
{"data":{"name":"aN0"},"mark":"point","encoding":{"x":{"field":"t","type":"nominal","scale":{"type":"band","domain":["N0"],"paddingInner":0,"paddingOuter":0.25,"align":0.715},"axis":null},"y":{"field":"v","type":"quantitative","scale":{"domain":[0.151,1.245],"nice":false,"zero":false},"axis":null}}},
{"data":{"name":"refs"},"transform":[{"filter":"datum.p == 'a'"}],"mark":"rule","encoding":{"y":{"field":"v","type":"quantitative","scale":{"domain":[0.151,1.245],"nice":false,"zero":false},"axis":null},"stroke":{"field":"k","type":"nominal","scale":{"domain":["pink","blue","grey","black"],"range":["#ffb6c1","#1e9bff","#a8a8a8","#000000"]},"legend":null},"strokeDash":{"field":"k","type":"nominal","scale":{"domain":["pink","blue","grey","black"],"range":[[6,4],[6,4],[1,0],[6,4]]},"legend":null},"strokeWidth":{"field":"k","type":"ordinal","scale":{"domain":["pink","blue","grey","black"],"range":[2.2,2.2,3,2.4]},"legend":null}}}
],"resolve":{"axis":{"x":"independent","y":"independent"},"scale":{"strokeDash":"independent"}}},
{"width":168,"height":434,"layer":[
{"data":{"name":"aN1"},"transform":[{"aggregate":[{"op":"min","field":"v","as":"lo"},{"op":"max","field":"v","as":"hi"}],"groupby":["t"]}],"mark":{"type":"rule","color":"#3d3d3d","strokeWidth":2},"encoding":{"x":{"field":"t","type":"nominal","scale":{"type":"band","domain":["NARMA5","NARMA10","NARMA15","SinCos-1","SinCos-2","Chaos","VDP"],"paddingInner":0,"paddingOuter":0.886},"axis":null},"y":{"field":"lo","type":"quantitative","scale":{"domain":[0.151,1.245],"nice":false,"zero":false},"axis":null},"y2":{"field":"hi"}}},
{"data":{"name":"aN1"},"transform":[{"density":"v","groupby":["t"],"extent":[0.151,1.245],"steps":200,"as":["y","d"]},{"joinaggregate":[{"op":"max","field":"d","as":"dm"}],"groupby":["t"]},{"fold":["d","dm"],"as":["key","val"]},{"stack":"val","groupby":["t","y"],"sort":[{"field":"key","order":"ascending"}],"offset":"normalize","as":["s0","s1"]},{"filter":"datum.key == 'd' && datum.s1 > 0.01"}],"layer":[
{"mark":{"type":"tick","color":"#3d3d3d"},"encoding":{"x":{"field":"t","type":"nominal","scale":{"type":"band","domain":["NARMA5","NARMA10","NARMA15","SinCos-1","SinCos-2","Chaos","VDP"],"paddingInner":0,"paddingOuter":0.886},"axis":{"orient":"bottom","values":["SinCos-1"],"labelExpr":"'N1'","title":null}},"y":{"field":"y","type":"quantitative","scale":{"domain":[0.151,1.245],"nice":false,"zero":false},"axis":null},"size":{"field":"s1","type":"quantitative","scale":{"type":"pow","exponent":1.6,"domain":[0,0.5],"range":[3,20]},"legend":null}}},
{"mark":{"type":"tick"},"encoding":{"x":{"field":"t","type":"nominal","scale":{"type":"band","domain":["NARMA5","NARMA10","NARMA15","SinCos-1","SinCos-2","Chaos","VDP"],"paddingInner":0,"paddingOuter":0.886},"axis":{"orient":"bottom","values":["SinCos-1"],"labelExpr":"'N1'","title":null}},"y":{"field":"y","type":"quantitative","scale":{"domain":[0.151,1.245],"nice":false,"zero":false},"axis":null},"size":{"field":"s1","type":"quantitative","scale":{"type":"pow","exponent":1.6,"domain":[0,0.5],"range":[0,17]},"legend":null},"color":{"field":"t","type":"nominal","scale":{"domain":["NARMA5","NARMA10","NARMA15","SinCos-1","SinCos-2","Chaos","VDP"],"range":["#ff0000","#0000ff","#ffa500","#008000","#a52a2a","#00ffff","#9370db"]},"legend":{"orient":"none","legendX":-62,"legendY":4,"direction":"vertical","columns":2,"title":null,"symbolType":"M-1.5,-1H1.5V1H-1.5Z","symbolSize":220,"symbolStrokeColor":"#333333","symbolStrokeWidth":1,"labelFontSize":20,"labelColor":"#000000","rowPadding":10.3,"columnPadding":18,"padding":8,"labelOffset":10,"strokeColor":"#cccccc","fillColor":"#ffffff","cornerRadius":5}}}}
],"resolve":{"scale":{"size":"independent"}}},
{"data":{"name":"aN1"},"transform":[{"aggregate":[{"op":"q1","field":"v","as":"q1"},{"op":"median","field":"v","as":"median"},{"op":"q3","field":"v","as":"q3"}],"groupby":["t"]},{"fold":["q1","median","q3"],"as":["qk","qv"]}],"mark":{"type":"rule","color":"#333333","strokeWidth":1.3,"xOffset":-7,"x2Offset":7},"encoding":{"x":{"field":"t","type":"nominal","scale":{"type":"band","domain":["NARMA5","NARMA10","NARMA15","SinCos-1","SinCos-2","Chaos","VDP"],"paddingInner":0,"paddingOuter":0.886},"axis":{"orient":"top","labels":false,"ticks":false,"title":null}},"x2":{"field":"t"},"y":{"field":"qv","type":"quantitative","scale":{"domain":[0.151,1.245],"nice":false,"zero":false},"axis":null},"strokeDash":{"field":"qk","type":"nominal","scale":{"domain":["q1","median","q3"],"range":[[2,2],[5,3],[2,2]]},"legend":null}}},
{"data":{"name":"aN1"},"mark":"point","encoding":{"x":{"field":"t","type":"nominal","scale":{"type":"band","domain":["NARMA5","NARMA10","NARMA15","SinCos-1","SinCos-2","Chaos","VDP"],"paddingInner":0,"paddingOuter":0.886},"axis":null},"y":{"field":"v","type":"quantitative","scale":{"domain":[0.151,1.245],"nice":false,"zero":false},"axis":null}}},
{"data":{"name":"refs"},"transform":[{"filter":"datum.p == 'a'"}],"mark":"rule","encoding":{"y":{"field":"v","type":"quantitative","scale":{"domain":[0.151,1.245],"nice":false,"zero":false},"axis":null},"stroke":{"field":"k","type":"nominal","scale":{"domain":["pink","blue","grey","black"],"range":["#ffb6c1","#1e9bff","#a8a8a8","#000000"]},"legend":null},"strokeDash":{"field":"k","type":"nominal","scale":{"domain":["pink","blue","grey","black"],"range":[[6,4],[6,4],[1,0],[6,4]]},"legend":null},"strokeWidth":{"field":"k","type":"ordinal","scale":{"domain":["pink","blue","grey","black"],"range":[2.2,2.2,3,2.4]},"legend":null}}}
],"resolve":{"axis":{"x":"independent","y":"independent"},"scale":{"strokeDash":"independent"}}},
{"width":168,"height":434,"layer":[
{"data":{"name":"aN2"},"transform":[{"aggregate":[{"op":"min","field":"v","as":"lo"},{"op":"max","field":"v","as":"hi"}],"groupby":["t"]}],"mark":{"type":"rule","color":"#3d3d3d","strokeWidth":2},"encoding":{"x":{"field":"t","type":"nominal","scale":{"type":"band","domain":["NARMA5","NARMA10","NARMA15","SinCos-1","SinCos-2","Chaos","VDP"],"paddingInner":0,"paddingOuter":0.886},"axis":null},"y":{"field":"lo","type":"quantitative","scale":{"domain":[0.151,1.245],"nice":false,"zero":false},"axis":null},"y2":{"field":"hi"}}},
{"data":{"name":"aN2"},"transform":[{"density":"v","groupby":["t"],"extent":[0.151,1.245],"steps":200,"as":["y","d"]},{"joinaggregate":[{"op":"max","field":"d","as":"dm"}],"groupby":["t"]},{"fold":["d","dm"],"as":["key","val"]},{"stack":"val","groupby":["t","y"],"sort":[{"field":"key","order":"ascending"}],"offset":"normalize","as":["s0","s1"]},{"filter":"datum.key == 'd' && datum.s1 > 0.01"}],"layer":[
{"mark":{"type":"tick","color":"#3d3d3d"},"encoding":{"x":{"field":"t","type":"nominal","scale":{"type":"band","domain":["NARMA5","NARMA10","NARMA15","SinCos-1","SinCos-2","Chaos","VDP"],"paddingInner":0,"paddingOuter":0.886},"axis":{"orient":"bottom","values":["SinCos-1"],"labelExpr":"'N2'","title":"Models","titleX":31,"titlePadding":4}},"y":{"field":"y","type":"quantitative","scale":{"domain":[0.151,1.245],"nice":false,"zero":false},"axis":null},"size":{"field":"s1","type":"quantitative","scale":{"type":"pow","exponent":1.6,"domain":[0,0.5],"range":[3,20]},"legend":null}}},
{"mark":{"type":"tick"},"encoding":{"x":{"field":"t","type":"nominal","scale":{"type":"band","domain":["NARMA5","NARMA10","NARMA15","SinCos-1","SinCos-2","Chaos","VDP"],"paddingInner":0,"paddingOuter":0.886},"axis":{"orient":"bottom","values":["SinCos-1"],"labelExpr":"'N2'","title":"Models","titleX":31,"titlePadding":4}},"y":{"field":"y","type":"quantitative","scale":{"domain":[0.151,1.245],"nice":false,"zero":false},"axis":null},"size":{"field":"s1","type":"quantitative","scale":{"type":"pow","exponent":1.6,"domain":[0,0.5],"range":[0,17]},"legend":null},"color":{"field":"t","type":"nominal","scale":{"domain":["NARMA5","NARMA10","NARMA15","SinCos-1","SinCos-2","Chaos","VDP"],"range":["#ff0000","#0000ff","#ffa500","#008000","#a52a2a","#00ffff","#9370db"]},"legend":null}}}
],"resolve":{"scale":{"size":"independent"}}},
{"data":{"name":"aN2"},"transform":[{"aggregate":[{"op":"q1","field":"v","as":"q1"},{"op":"median","field":"v","as":"median"},{"op":"q3","field":"v","as":"q3"}],"groupby":["t"]},{"fold":["q1","median","q3"],"as":["qk","qv"]}],"mark":{"type":"rule","color":"#333333","strokeWidth":1.3,"xOffset":-7,"x2Offset":7},"encoding":{"x":{"field":"t","type":"nominal","scale":{"type":"band","domain":["NARMA5","NARMA10","NARMA15","SinCos-1","SinCos-2","Chaos","VDP"],"paddingInner":0,"paddingOuter":0.886},"axis":{"orient":"top","labels":false,"ticks":false,"title":null}},"x2":{"field":"t"},"y":{"field":"qv","type":"quantitative","scale":{"domain":[0.151,1.245],"nice":false,"zero":false},"axis":null},"strokeDash":{"field":"qk","type":"nominal","scale":{"domain":["q1","median","q3"],"range":[[2,2],[5,3],[2,2]]},"legend":null}}},
{"data":{"name":"aN2"},"mark":"point","encoding":{"x":{"field":"t","type":"nominal","scale":{"type":"band","domain":["NARMA5","NARMA10","NARMA15","SinCos-1","SinCos-2","Chaos","VDP"],"paddingInner":0,"paddingOuter":0.886},"axis":null},"y":{"field":"v","type":"quantitative","scale":{"domain":[0.151,1.245],"nice":false,"zero":false},"axis":null}}},
{"data":{"name":"refs"},"transform":[{"filter":"datum.p == 'a'"}],"mark":"rule","encoding":{"y":{"field":"v","type":"quantitative","scale":{"domain":[0.151,1.245],"nice":false,"zero":false},"axis":null},"stroke":{"field":"k","type":"nominal","scale":{"domain":["pink","blue","grey","black"],"range":["#ffb6c1","#1e9bff","#a8a8a8","#000000"]},"legend":null},"strokeDash":{"field":"k","type":"nominal","scale":{"domain":["pink","blue","grey","black"],"range":[[6,4],[6,4],[1,0],[6,4]]},"legend":null},"strokeWidth":{"field":"k","type":"ordinal","scale":{"domain":["pink","blue","grey","black"],"range":[2.2,2.2,3,2.4]},"legend":null}}}
],"resolve":{"axis":{"x":"independent","y":"independent"},"scale":{"strokeDash":"independent"}}},
{"width":167,"height":434,"layer":[
{"data":{"name":"aN3"},"transform":[{"aggregate":[{"op":"min","field":"v","as":"lo"},{"op":"max","field":"v","as":"hi"}],"groupby":["t"]}],"mark":{"type":"rule","color":"#3d3d3d","strokeWidth":2},"encoding":{"x":{"field":"t","type":"nominal","scale":{"type":"band","domain":["NARMA5","NARMA10","NARMA15","SinCos-1","SinCos-2","Chaos","VDP"],"paddingInner":0,"paddingOuter":0.886},"axis":null},"y":{"field":"lo","type":"quantitative","scale":{"domain":[0.151,1.245],"nice":false,"zero":false},"axis":null},"y2":{"field":"hi"}}},
{"data":{"name":"aN3"},"transform":[{"density":"v","groupby":["t"],"extent":[0.151,1.245],"steps":200,"as":["y","d"]},{"joinaggregate":[{"op":"max","field":"d","as":"dm"}],"groupby":["t"]},{"fold":["d","dm"],"as":["key","val"]},{"stack":"val","groupby":["t","y"],"sort":[{"field":"key","order":"ascending"}],"offset":"normalize","as":["s0","s1"]},{"filter":"datum.key == 'd' && datum.s1 > 0.01"}],"layer":[
{"mark":{"type":"tick","color":"#3d3d3d"},"encoding":{"x":{"field":"t","type":"nominal","scale":{"type":"band","domain":["NARMA5","NARMA10","NARMA15","SinCos-1","SinCos-2","Chaos","VDP"],"paddingInner":0,"paddingOuter":0.886},"axis":{"orient":"bottom","values":["SinCos-1"],"labelExpr":"'N3'","title":null}},"y":{"field":"y","type":"quantitative","scale":{"domain":[0.151,1.245],"nice":false,"zero":false},"axis":null},"size":{"field":"s1","type":"quantitative","scale":{"type":"pow","exponent":1.6,"domain":[0,0.5],"range":[3,20]},"legend":null}}},
{"mark":{"type":"tick"},"encoding":{"x":{"field":"t","type":"nominal","scale":{"type":"band","domain":["NARMA5","NARMA10","NARMA15","SinCos-1","SinCos-2","Chaos","VDP"],"paddingInner":0,"paddingOuter":0.886},"axis":{"orient":"bottom","values":["SinCos-1"],"labelExpr":"'N3'","title":null}},"y":{"field":"y","type":"quantitative","scale":{"domain":[0.151,1.245],"nice":false,"zero":false},"axis":null},"size":{"field":"s1","type":"quantitative","scale":{"type":"pow","exponent":1.6,"domain":[0,0.5],"range":[0,17]},"legend":null},"color":{"field":"t","type":"nominal","scale":{"domain":["NARMA5","NARMA10","NARMA15","SinCos-1","SinCos-2","Chaos","VDP"],"range":["#ff0000","#0000ff","#ffa500","#008000","#a52a2a","#00ffff","#9370db"]},"legend":null}}}
],"resolve":{"scale":{"size":"independent"}}},
{"data":{"name":"aN3"},"transform":[{"aggregate":[{"op":"q1","field":"v","as":"q1"},{"op":"median","field":"v","as":"median"},{"op":"q3","field":"v","as":"q3"}],"groupby":["t"]},{"fold":["q1","median","q3"],"as":["qk","qv"]}],"mark":{"type":"rule","color":"#333333","strokeWidth":1.3,"xOffset":-7,"x2Offset":7},"encoding":{"x":{"field":"t","type":"nominal","scale":{"type":"band","domain":["NARMA5","NARMA10","NARMA15","SinCos-1","SinCos-2","Chaos","VDP"],"paddingInner":0,"paddingOuter":0.886},"axis":{"orient":"top","labels":false,"ticks":false,"title":null}},"x2":{"field":"t"},"y":{"field":"qv","type":"quantitative","scale":{"domain":[0.151,1.245],"nice":false,"zero":false},"axis":{"orient":"right","labels":false,"ticks":false,"title":null}},"strokeDash":{"field":"qk","type":"nominal","scale":{"domain":["q1","median","q3"],"range":[[2,2],[5,3],[2,2]]},"legend":null}}},
{"data":{"name":"aN3"},"mark":"point","encoding":{"x":{"field":"t","type":"nominal","scale":{"type":"band","domain":["NARMA5","NARMA10","NARMA15","SinCos-1","SinCos-2","Chaos","VDP"],"paddingInner":0,"paddingOuter":0.886},"axis":null},"y":{"field":"v","type":"quantitative","scale":{"domain":[0.151,1.245],"nice":false,"zero":false},"axis":null}}},
{"data":{"name":"refs"},"transform":[{"filter":"datum.p == 'a'"}],"mark":"rule","encoding":{"y":{"field":"v","type":"quantitative","scale":{"domain":[0.151,1.245],"nice":false,"zero":false},"axis":null},"stroke":{"field":"k","type":"nominal","scale":{"domain":["pink","blue","grey","black"],"range":["#ffb6c1","#1e9bff","#a8a8a8","#000000"]},"legend":null},"strokeDash":{"field":"k","type":"nominal","scale":{"domain":["pink","blue","grey","black"],"range":[[6,4],[6,4],[1,0],[6,4]]},"legend":null},"strokeWidth":{"field":"k","type":"ordinal","scale":{"domain":["pink","blue","grey","black"],"range":[2.2,2.2,3,2.4]},"legend":null}}}
],"resolve":{"axis":{"x":"independent","y":"independent"},"scale":{"strokeDash":"independent"}}},
{"width":116.6,"height":434,"data":{"values":[]},"mark":"point"},
{"width":81,"height":434,"title":{"text":"b","anchor":"start","frame":"bounds","fontSize":56,"baseline":"alphabetic","offset":-82},"layer":[
{"data":{"name":"bN0"},"transform":[{"aggregate":[{"op":"min","field":"v","as":"lo"},{"op":"max","field":"v","as":"hi"}],"groupby":["t"]}],"mark":{"type":"rule","color":"#3a3a3a","strokeWidth":5},"encoding":{"x":{"field":"t","type":"nominal","scale":{"type":"band","domain":["N0"],"paddingInner":0,"paddingOuter":0.25,"align":0.715},"axis":null},"y":{"field":"lo","type":"quantitative","scale":{"domain":[-0.028,1.028],"nice":false,"zero":false},"axis":null},"y2":{"field":"hi"}}},
{"data":{"name":"bN0"},"transform":[{"density":"v","groupby":["t"],"extent":[-0.028,1.028],"steps":200,"as":["y","d"]},{"joinaggregate":[{"op":"max","field":"d","as":"dm"}],"groupby":["t"]},{"fold":["d","dm"],"as":["key","val"]},{"stack":"val","groupby":["t","y"],"sort":[{"field":"key","order":"ascending"}],"offset":"normalize","as":["s0","s1"]},{"filter":"datum.key == 'd' && datum.s1 > 0.01"}],"layer":[
{"mark":{"type":"tick","color":"#3a3a3a"},"encoding":{"x":{"field":"t","type":"nominal","scale":{"type":"band","domain":["N0"],"paddingInner":0,"paddingOuter":0.25,"align":0.715},"axis":{"orient":"bottom","title":null}},"y":{"field":"y","type":"quantitative","scale":{"domain":[-0.028,1.028],"nice":false,"zero":false},"axis":{"orient":"left","title":"Input Nodes [I/N]","values":[0,0.2,0.4,0.6,0.8,1.0],"format":".1f","titleX":-58,"titleY":217,"titleAngle":270,"titleBaseline":"bottom","titleAlign":"center"}},"size":{"field":"s1","type":"quantitative","scale":{"type":"pow","exponent":1.6,"domain":[0,0.5],"range":[5,53]},"legend":null}}},
{"mark":{"type":"tick","color":"#d3d3d3"},"encoding":{"x":{"field":"t","type":"nominal","scale":{"type":"band","domain":["N0"],"paddingInner":0,"paddingOuter":0.25,"align":0.715},"axis":{"orient":"bottom","title":null}},"y":{"field":"y","type":"quantitative","scale":{"domain":[-0.028,1.028],"nice":false,"zero":false},"axis":{"orient":"left","title":"Input Nodes [I/N]","values":[0,0.2,0.4,0.6,0.8,1.0],"format":".1f","titleX":-58,"titleY":217,"titleAngle":270,"titleBaseline":"bottom","titleAlign":"center"}},"size":{"field":"s1","type":"quantitative","scale":{"type":"pow","exponent":1.6,"domain":[0,0.5],"range":[0,48]},"legend":null}}}
],"resolve":{"scale":{"size":"independent"}}},
{"data":{"name":"bN0"},"transform":[{"aggregate":[{"op":"q1","field":"v","as":"q1"},{"op":"median","field":"v","as":"median"},{"op":"q3","field":"v","as":"q3"}],"groupby":["t"]},{"fold":["q1","median","q3"],"as":["qk","qv"]}],"mark":{"type":"rule","color":"#333333","strokeWidth":1.3,"xOffset":-18,"x2Offset":18},"encoding":{"x":{"field":"t","type":"nominal","scale":{"type":"band","domain":["N0"],"paddingInner":0,"paddingOuter":0.25,"align":0.715},"axis":{"orient":"top","labels":false,"ticks":false,"title":null}},"x2":{"field":"t"},"y":{"field":"qv","type":"quantitative","scale":{"domain":[-0.028,1.028],"nice":false,"zero":false},"axis":null},"strokeDash":{"field":"qk","type":"nominal","scale":{"domain":["q1","median","q3"],"range":[[2,2],[5,3],[2,2]]},"legend":null}}},
{"data":{"name":"bN0"},"mark":"point","encoding":{"x":{"field":"t","type":"nominal","scale":{"type":"band","domain":["N0"],"paddingInner":0,"paddingOuter":0.25,"align":0.715},"axis":null},"y":{"field":"v","type":"quantitative","scale":{"domain":[-0.028,1.028],"nice":false,"zero":false},"axis":null}}},
{"data":{"name":"refs"},"transform":[{"filter":"datum.p == 'b'"}],"mark":"rule","encoding":{"y":{"field":"v","type":"quantitative","scale":{"domain":[-0.028,1.028],"nice":false,"zero":false},"axis":null},"stroke":{"field":"k","type":"nominal","scale":{"domain":["pink","blue","grey","black"],"range":["#ffb6c1","#1e9bff","#a8a8a8","#000000"]},"legend":null},"strokeDash":{"field":"k","type":"nominal","scale":{"domain":["pink","blue","grey","black"],"range":[[6,4],[6,4],[1,0],[6,4]]},"legend":null},"strokeWidth":{"field":"k","type":"ordinal","scale":{"domain":["pink","blue","grey","black"],"range":[2.2,2.2,3,2.4]},"legend":null}}}
],"resolve":{"axis":{"x":"independent","y":"independent"},"scale":{"strokeDash":"independent"}}},
{"width":168,"height":434,"layer":[
{"data":{"name":"bN1"},"transform":[{"aggregate":[{"op":"min","field":"v","as":"lo"},{"op":"max","field":"v","as":"hi"}],"groupby":["t"]}],"mark":{"type":"rule","color":"#3d3d3d","strokeWidth":2},"encoding":{"x":{"field":"t","type":"nominal","scale":{"type":"band","domain":["NARMA5","NARMA10","NARMA15","SinCos-1","SinCos-2","Chaos","VDP"],"paddingInner":0,"paddingOuter":0.886},"axis":null},"y":{"field":"lo","type":"quantitative","scale":{"domain":[-0.028,1.028],"nice":false,"zero":false},"axis":null},"y2":{"field":"hi"}}},
{"data":{"name":"bN1"},"transform":[{"density":"v","groupby":["t"],"extent":[-0.028,1.028],"steps":200,"as":["y","d"]},{"joinaggregate":[{"op":"max","field":"d","as":"dm"}],"groupby":["t"]},{"fold":["d","dm"],"as":["key","val"]},{"stack":"val","groupby":["t","y"],"sort":[{"field":"key","order":"ascending"}],"offset":"normalize","as":["s0","s1"]},{"filter":"datum.key == 'd' && datum.s1 > 0.01"}],"layer":[
{"mark":{"type":"tick","color":"#3d3d3d"},"encoding":{"x":{"field":"t","type":"nominal","scale":{"type":"band","domain":["NARMA5","NARMA10","NARMA15","SinCos-1","SinCos-2","Chaos","VDP"],"paddingInner":0,"paddingOuter":0.886},"axis":{"orient":"bottom","values":["SinCos-1"],"labelExpr":"'N1'","title":null}},"y":{"field":"y","type":"quantitative","scale":{"domain":[-0.028,1.028],"nice":false,"zero":false},"axis":null},"size":{"field":"s1","type":"quantitative","scale":{"type":"pow","exponent":1.6,"domain":[0,0.5],"range":[3,20]},"legend":null}}},
{"mark":{"type":"tick"},"encoding":{"x":{"field":"t","type":"nominal","scale":{"type":"band","domain":["NARMA5","NARMA10","NARMA15","SinCos-1","SinCos-2","Chaos","VDP"],"paddingInner":0,"paddingOuter":0.886},"axis":{"orient":"bottom","values":["SinCos-1"],"labelExpr":"'N1'","title":null}},"y":{"field":"y","type":"quantitative","scale":{"domain":[-0.028,1.028],"nice":false,"zero":false},"axis":null},"size":{"field":"s1","type":"quantitative","scale":{"type":"pow","exponent":1.6,"domain":[0,0.5],"range":[0,17]},"legend":null},"color":{"field":"t","type":"nominal","scale":{"domain":["NARMA5","NARMA10","NARMA15","SinCos-1","SinCos-2","Chaos","VDP"],"range":["#ff0000","#0000ff","#ffa500","#008000","#a52a2a","#00ffff","#9370db"]},"legend":null}}}
],"resolve":{"scale":{"size":"independent"}}},
{"data":{"name":"bN1"},"transform":[{"aggregate":[{"op":"q1","field":"v","as":"q1"},{"op":"median","field":"v","as":"median"},{"op":"q3","field":"v","as":"q3"}],"groupby":["t"]},{"fold":["q1","median","q3"],"as":["qk","qv"]}],"mark":{"type":"rule","color":"#333333","strokeWidth":1.3,"xOffset":-7,"x2Offset":7},"encoding":{"x":{"field":"t","type":"nominal","scale":{"type":"band","domain":["NARMA5","NARMA10","NARMA15","SinCos-1","SinCos-2","Chaos","VDP"],"paddingInner":0,"paddingOuter":0.886},"axis":{"orient":"top","labels":false,"ticks":false,"title":null}},"x2":{"field":"t"},"y":{"field":"qv","type":"quantitative","scale":{"domain":[-0.028,1.028],"nice":false,"zero":false},"axis":null},"strokeDash":{"field":"qk","type":"nominal","scale":{"domain":["q1","median","q3"],"range":[[2,2],[5,3],[2,2]]},"legend":null}}},
{"data":{"name":"bN1"},"mark":"point","encoding":{"x":{"field":"t","type":"nominal","scale":{"type":"band","domain":["NARMA5","NARMA10","NARMA15","SinCos-1","SinCos-2","Chaos","VDP"],"paddingInner":0,"paddingOuter":0.886},"axis":null},"y":{"field":"v","type":"quantitative","scale":{"domain":[-0.028,1.028],"nice":false,"zero":false},"axis":null}}},
{"data":{"name":"refs"},"transform":[{"filter":"datum.p == 'b'"}],"mark":"rule","encoding":{"y":{"field":"v","type":"quantitative","scale":{"domain":[-0.028,1.028],"nice":false,"zero":false},"axis":null},"stroke":{"field":"k","type":"nominal","scale":{"domain":["pink","blue","grey","black"],"range":["#ffb6c1","#1e9bff","#a8a8a8","#000000"]},"legend":null},"strokeDash":{"field":"k","type":"nominal","scale":{"domain":["pink","blue","grey","black"],"range":[[6,4],[6,4],[1,0],[6,4]]},"legend":null},"strokeWidth":{"field":"k","type":"ordinal","scale":{"domain":["pink","blue","grey","black"],"range":[2.2,2.2,3,2.4]},"legend":null}}}
],"resolve":{"axis":{"x":"independent","y":"independent"},"scale":{"strokeDash":"independent"}}},
{"width":168,"height":434,"layer":[
{"data":{"name":"bN2"},"transform":[{"aggregate":[{"op":"min","field":"v","as":"lo"},{"op":"max","field":"v","as":"hi"}],"groupby":["t"]}],"mark":{"type":"rule","color":"#3d3d3d","strokeWidth":2},"encoding":{"x":{"field":"t","type":"nominal","scale":{"type":"band","domain":["NARMA5","NARMA10","NARMA15","SinCos-1","SinCos-2","Chaos","VDP"],"paddingInner":0,"paddingOuter":0.886},"axis":null},"y":{"field":"lo","type":"quantitative","scale":{"domain":[-0.028,1.028],"nice":false,"zero":false},"axis":null},"y2":{"field":"hi"}}},
{"data":{"name":"bN2"},"transform":[{"density":"v","groupby":["t"],"extent":[-0.028,1.028],"steps":200,"as":["y","d"]},{"joinaggregate":[{"op":"max","field":"d","as":"dm"}],"groupby":["t"]},{"fold":["d","dm"],"as":["key","val"]},{"stack":"val","groupby":["t","y"],"sort":[{"field":"key","order":"ascending"}],"offset":"normalize","as":["s0","s1"]},{"filter":"datum.key == 'd' && datum.s1 > 0.01"}],"layer":[
{"mark":{"type":"tick","color":"#3d3d3d"},"encoding":{"x":{"field":"t","type":"nominal","scale":{"type":"band","domain":["NARMA5","NARMA10","NARMA15","SinCos-1","SinCos-2","Chaos","VDP"],"paddingInner":0,"paddingOuter":0.886},"axis":{"orient":"bottom","values":["SinCos-1"],"labelExpr":"'N2'","title":"Models","titleX":28,"titlePadding":4}},"y":{"field":"y","type":"quantitative","scale":{"domain":[-0.028,1.028],"nice":false,"zero":false},"axis":null},"size":{"field":"s1","type":"quantitative","scale":{"type":"pow","exponent":1.6,"domain":[0,0.5],"range":[3,20]},"legend":null}}},
{"mark":{"type":"tick"},"encoding":{"x":{"field":"t","type":"nominal","scale":{"type":"band","domain":["NARMA5","NARMA10","NARMA15","SinCos-1","SinCos-2","Chaos","VDP"],"paddingInner":0,"paddingOuter":0.886},"axis":{"orient":"bottom","values":["SinCos-1"],"labelExpr":"'N2'","title":"Models","titleX":28,"titlePadding":4}},"y":{"field":"y","type":"quantitative","scale":{"domain":[-0.028,1.028],"nice":false,"zero":false},"axis":null},"size":{"field":"s1","type":"quantitative","scale":{"type":"pow","exponent":1.6,"domain":[0,0.5],"range":[0,17]},"legend":null},"color":{"field":"t","type":"nominal","scale":{"domain":["NARMA5","NARMA10","NARMA15","SinCos-1","SinCos-2","Chaos","VDP"],"range":["#ff0000","#0000ff","#ffa500","#008000","#a52a2a","#00ffff","#9370db"]},"legend":null}}}
],"resolve":{"scale":{"size":"independent"}}},
{"data":{"name":"bN2"},"transform":[{"aggregate":[{"op":"q1","field":"v","as":"q1"},{"op":"median","field":"v","as":"median"},{"op":"q3","field":"v","as":"q3"}],"groupby":["t"]},{"fold":["q1","median","q3"],"as":["qk","qv"]}],"mark":{"type":"rule","color":"#333333","strokeWidth":1.3,"xOffset":-7,"x2Offset":7},"encoding":{"x":{"field":"t","type":"nominal","scale":{"type":"band","domain":["NARMA5","NARMA10","NARMA15","SinCos-1","SinCos-2","Chaos","VDP"],"paddingInner":0,"paddingOuter":0.886},"axis":{"orient":"top","labels":false,"ticks":false,"title":null}},"x2":{"field":"t"},"y":{"field":"qv","type":"quantitative","scale":{"domain":[-0.028,1.028],"nice":false,"zero":false},"axis":null},"strokeDash":{"field":"qk","type":"nominal","scale":{"domain":["q1","median","q3"],"range":[[2,2],[5,3],[2,2]]},"legend":null}}},
{"data":{"name":"bN2"},"mark":"point","encoding":{"x":{"field":"t","type":"nominal","scale":{"type":"band","domain":["NARMA5","NARMA10","NARMA15","SinCos-1","SinCos-2","Chaos","VDP"],"paddingInner":0,"paddingOuter":0.886},"axis":null},"y":{"field":"v","type":"quantitative","scale":{"domain":[-0.028,1.028],"nice":false,"zero":false},"axis":null}}},
{"data":{"name":"refs"},"transform":[{"filter":"datum.p == 'b'"}],"mark":"rule","encoding":{"y":{"field":"v","type":"quantitative","scale":{"domain":[-0.028,1.028],"nice":false,"zero":false},"axis":null},"stroke":{"field":"k","type":"nominal","scale":{"domain":["pink","blue","grey","black"],"range":["#ffb6c1","#1e9bff","#a8a8a8","#000000"]},"legend":null},"strokeDash":{"field":"k","type":"nominal","scale":{"domain":["pink","blue","grey","black"],"range":[[6,4],[6,4],[1,0],[6,4]]},"legend":null},"strokeWidth":{"field":"k","type":"ordinal","scale":{"domain":["pink","blue","grey","black"],"range":[2.2,2.2,3,2.4]},"legend":null}}}
],"resolve":{"axis":{"x":"independent","y":"independent"},"scale":{"strokeDash":"independent"}}},
{"width":167,"height":434,"layer":[
{"data":{"name":"bN3"},"transform":[{"aggregate":[{"op":"min","field":"v","as":"lo"},{"op":"max","field":"v","as":"hi"}],"groupby":["t"]}],"mark":{"type":"rule","color":"#3d3d3d","strokeWidth":2},"encoding":{"x":{"field":"t","type":"nominal","scale":{"type":"band","domain":["NARMA5","NARMA10","NARMA15","SinCos-1","SinCos-2","Chaos","VDP"],"paddingInner":0,"paddingOuter":0.886},"axis":null},"y":{"field":"lo","type":"quantitative","scale":{"domain":[-0.028,1.028],"nice":false,"zero":false},"axis":null},"y2":{"field":"hi"}}},
{"data":{"name":"bN3"},"transform":[{"density":"v","groupby":["t"],"extent":[-0.028,1.028],"steps":200,"as":["y","d"]},{"joinaggregate":[{"op":"max","field":"d","as":"dm"}],"groupby":["t"]},{"fold":["d","dm"],"as":["key","val"]},{"stack":"val","groupby":["t","y"],"sort":[{"field":"key","order":"ascending"}],"offset":"normalize","as":["s0","s1"]},{"filter":"datum.key == 'd' && datum.s1 > 0.01"}],"layer":[
{"mark":{"type":"tick","color":"#3d3d3d"},"encoding":{"x":{"field":"t","type":"nominal","scale":{"type":"band","domain":["NARMA5","NARMA10","NARMA15","SinCos-1","SinCos-2","Chaos","VDP"],"paddingInner":0,"paddingOuter":0.886},"axis":{"orient":"bottom","values":["SinCos-1"],"labelExpr":"'N3'","title":null}},"y":{"field":"y","type":"quantitative","scale":{"domain":[-0.028,1.028],"nice":false,"zero":false},"axis":null},"size":{"field":"s1","type":"quantitative","scale":{"type":"pow","exponent":1.6,"domain":[0,0.5],"range":[3,20]},"legend":null}}},
{"mark":{"type":"tick"},"encoding":{"x":{"field":"t","type":"nominal","scale":{"type":"band","domain":["NARMA5","NARMA10","NARMA15","SinCos-1","SinCos-2","Chaos","VDP"],"paddingInner":0,"paddingOuter":0.886},"axis":{"orient":"bottom","values":["SinCos-1"],"labelExpr":"'N3'","title":null}},"y":{"field":"y","type":"quantitative","scale":{"domain":[-0.028,1.028],"nice":false,"zero":false},"axis":null},"size":{"field":"s1","type":"quantitative","scale":{"type":"pow","exponent":1.6,"domain":[0,0.5],"range":[0,17]},"legend":null},"color":{"field":"t","type":"nominal","scale":{"domain":["NARMA5","NARMA10","NARMA15","SinCos-1","SinCos-2","Chaos","VDP"],"range":["#ff0000","#0000ff","#ffa500","#008000","#a52a2a","#00ffff","#9370db"]},"legend":null}}}
],"resolve":{"scale":{"size":"independent"}}},
{"data":{"name":"bN3"},"transform":[{"aggregate":[{"op":"q1","field":"v","as":"q1"},{"op":"median","field":"v","as":"median"},{"op":"q3","field":"v","as":"q3"}],"groupby":["t"]},{"fold":["q1","median","q3"],"as":["qk","qv"]}],"mark":{"type":"rule","color":"#333333","strokeWidth":1.3,"xOffset":-7,"x2Offset":7},"encoding":{"x":{"field":"t","type":"nominal","scale":{"type":"band","domain":["NARMA5","NARMA10","NARMA15","SinCos-1","SinCos-2","Chaos","VDP"],"paddingInner":0,"paddingOuter":0.886},"axis":{"orient":"top","labels":false,"ticks":false,"title":null}},"x2":{"field":"t"},"y":{"field":"qv","type":"quantitative","scale":{"domain":[-0.028,1.028],"nice":false,"zero":false},"axis":{"orient":"right","labels":false,"ticks":false,"title":null}},"strokeDash":{"field":"qk","type":"nominal","scale":{"domain":["q1","median","q3"],"range":[[2,2],[5,3],[2,2]]},"legend":null}}},
{"data":{"name":"bN3"},"mark":"point","encoding":{"x":{"field":"t","type":"nominal","scale":{"type":"band","domain":["NARMA5","NARMA10","NARMA15","SinCos-1","SinCos-2","Chaos","VDP"],"paddingInner":0,"paddingOuter":0.886},"axis":null},"y":{"field":"v","type":"quantitative","scale":{"domain":[-0.028,1.028],"nice":false,"zero":false},"axis":null}}},
{"data":{"name":"refs"},"transform":[{"filter":"datum.p == 'b'"}],"mark":"rule","encoding":{"y":{"field":"v","type":"quantitative","scale":{"domain":[-0.028,1.028],"nice":false,"zero":false},"axis":null},"stroke":{"field":"k","type":"nominal","scale":{"domain":["pink","blue","grey","black"],"range":["#ffb6c1","#1e9bff","#a8a8a8","#000000"]},"legend":null},"strokeDash":{"field":"k","type":"nominal","scale":{"domain":["pink","blue","grey","black"],"range":[[6,4],[6,4],[1,0],[6,4]]},"legend":null},"strokeWidth":{"field":"k","type":"ordinal","scale":{"domain":["pink","blue","grey","black"],"range":[2.2,2.2,3,2.4]},"legend":null}}}
],"resolve":{"axis":{"x":"independent","y":"independent"},"scale":{"strokeDash":"independent"}}},
{"width":81,"height":434,"title":{"text":"c","anchor":"start","frame":"bounds","fontSize":56,"baseline":"alphabetic","offset":-59},"layer":[
{"data":{"name":"cN0"},"transform":[{"aggregate":[{"op":"min","field":"v","as":"lo"},{"op":"max","field":"v","as":"hi"}],"groupby":["t"]}],"mark":{"type":"rule","color":"#3a3a3a","strokeWidth":5},"encoding":{"x":{"field":"t","type":"nominal","scale":{"type":"band","domain":["N0"],"paddingInner":0,"paddingOuter":0.25,"align":0.715},"axis":null},"y":{"field":"lo","type":"quantitative","scale":{"domain":[-0.219,0.98],"nice":false,"zero":false},"axis":null},"y2":{"field":"hi"}}},
{"data":{"name":"cN0"},"transform":[{"density":"v","groupby":["t"],"extent":[-0.219,0.98],"steps":200,"as":["y","d"]},{"joinaggregate":[{"op":"max","field":"d","as":"dm"}],"groupby":["t"]},{"fold":["d","dm"],"as":["key","val"]},{"stack":"val","groupby":["t","y"],"sort":[{"field":"key","order":"ascending"}],"offset":"normalize","as":["s0","s1"]},{"filter":"datum.key == 'd' && datum.s1 > 0.01"}],"layer":[
{"mark":{"type":"tick","color":"#3a3a3a"},"encoding":{"x":{"field":"t","type":"nominal","scale":{"type":"band","domain":["N0"],"paddingInner":0,"paddingOuter":0.25,"align":0.715},"axis":{"orient":"bottom","title":null}},"y":{"field":"y","type":"quantitative","scale":{"domain":[-0.219,0.98],"nice":false,"zero":false},"axis":{"orient":"left","title":"Common Nodes [(InO)/N]","values":[-0.2,0,0.2,0.4,0.6,0.8],"format":".1f","titleX":-58,"titleY":240,"titleAngle":270,"titleBaseline":"bottom","titleAlign":"center"}},"size":{"field":"s1","type":"quantitative","scale":{"type":"pow","exponent":1.6,"domain":[0,0.5],"range":[5,53]},"legend":null}}},
{"mark":{"type":"tick","color":"#d3d3d3"},"encoding":{"x":{"field":"t","type":"nominal","scale":{"type":"band","domain":["N0"],"paddingInner":0,"paddingOuter":0.25,"align":0.715},"axis":{"orient":"bottom","title":null}},"y":{"field":"y","type":"quantitative","scale":{"domain":[-0.219,0.98],"nice":false,"zero":false},"axis":{"orient":"left","title":"Common Nodes [(InO)/N]","values":[-0.2,0,0.2,0.4,0.6,0.8],"format":".1f","titleX":-58,"titleY":240,"titleAngle":270,"titleBaseline":"bottom","titleAlign":"center"}},"size":{"field":"s1","type":"quantitative","scale":{"type":"pow","exponent":1.6,"domain":[0,0.5],"range":[0,48]},"legend":null}}}
],"resolve":{"scale":{"size":"independent"}}},
{"data":{"name":"cN0"},"transform":[{"aggregate":[{"op":"q1","field":"v","as":"q1"},{"op":"median","field":"v","as":"median"},{"op":"q3","field":"v","as":"q3"}],"groupby":["t"]},{"fold":["q1","median","q3"],"as":["qk","qv"]}],"mark":{"type":"rule","color":"#333333","strokeWidth":1.3,"xOffset":-18,"x2Offset":18},"encoding":{"x":{"field":"t","type":"nominal","scale":{"type":"band","domain":["N0"],"paddingInner":0,"paddingOuter":0.25,"align":0.715},"axis":{"orient":"top","labels":false,"ticks":false,"title":null}},"x2":{"field":"t"},"y":{"field":"qv","type":"quantitative","scale":{"domain":[-0.219,0.98],"nice":false,"zero":false},"axis":null},"strokeDash":{"field":"qk","type":"nominal","scale":{"domain":["q1","median","q3"],"range":[[2,2],[5,3],[2,2]]},"legend":null}}},
{"data":{"name":"cN0"},"mark":"point","encoding":{"x":{"field":"t","type":"nominal","scale":{"type":"band","domain":["N0"],"paddingInner":0,"paddingOuter":0.25,"align":0.715},"axis":null},"y":{"field":"v","type":"quantitative","scale":{"domain":[-0.219,0.98],"nice":false,"zero":false},"axis":null}}},
{"data":{"name":"refs"},"transform":[{"filter":"datum.p == 'c'"}],"mark":"rule","encoding":{"y":{"field":"v","type":"quantitative","scale":{"domain":[-0.219,0.98],"nice":false,"zero":false},"axis":null},"stroke":{"field":"k","type":"nominal","scale":{"domain":["pink","blue","grey","black"],"range":["#ffb6c1","#1e9bff","#a8a8a8","#000000"]},"legend":null},"strokeDash":{"field":"k","type":"nominal","scale":{"domain":["pink","blue","grey","black"],"range":[[6,4],[6,4],[1,0],[6,4]]},"legend":null},"strokeWidth":{"field":"k","type":"ordinal","scale":{"domain":["pink","blue","grey","black"],"range":[2.2,2.2,3,2.4]},"legend":null}}}
],"resolve":{"axis":{"x":"independent","y":"independent"},"scale":{"strokeDash":"independent"}}},
{"width":168,"height":434,"layer":[
{"data":{"name":"cN1"},"transform":[{"aggregate":[{"op":"min","field":"v","as":"lo"},{"op":"max","field":"v","as":"hi"}],"groupby":["t"]}],"mark":{"type":"rule","color":"#3d3d3d","strokeWidth":2},"encoding":{"x":{"field":"t","type":"nominal","scale":{"type":"band","domain":["NARMA5","NARMA10","NARMA15","SinCos-1","SinCos-2","Chaos","VDP"],"paddingInner":0,"paddingOuter":0.886},"axis":null},"y":{"field":"lo","type":"quantitative","scale":{"domain":[-0.219,0.98],"nice":false,"zero":false},"axis":null},"y2":{"field":"hi"}}},
{"data":{"name":"cN1"},"transform":[{"density":"v","groupby":["t"],"extent":[-0.219,0.98],"steps":200,"as":["y","d"]},{"joinaggregate":[{"op":"max","field":"d","as":"dm"}],"groupby":["t"]},{"fold":["d","dm"],"as":["key","val"]},{"stack":"val","groupby":["t","y"],"sort":[{"field":"key","order":"ascending"}],"offset":"normalize","as":["s0","s1"]},{"filter":"datum.key == 'd' && datum.s1 > 0.01"}],"layer":[
{"mark":{"type":"tick","color":"#3d3d3d"},"encoding":{"x":{"field":"t","type":"nominal","scale":{"type":"band","domain":["NARMA5","NARMA10","NARMA15","SinCos-1","SinCos-2","Chaos","VDP"],"paddingInner":0,"paddingOuter":0.886},"axis":{"orient":"bottom","values":["SinCos-1"],"labelExpr":"'N1'","title":null}},"y":{"field":"y","type":"quantitative","scale":{"domain":[-0.219,0.98],"nice":false,"zero":false},"axis":null},"size":{"field":"s1","type":"quantitative","scale":{"type":"pow","exponent":1.6,"domain":[0,0.5],"range":[3,20]},"legend":null}}},
{"mark":{"type":"tick"},"encoding":{"x":{"field":"t","type":"nominal","scale":{"type":"band","domain":["NARMA5","NARMA10","NARMA15","SinCos-1","SinCos-2","Chaos","VDP"],"paddingInner":0,"paddingOuter":0.886},"axis":{"orient":"bottom","values":["SinCos-1"],"labelExpr":"'N1'","title":null}},"y":{"field":"y","type":"quantitative","scale":{"domain":[-0.219,0.98],"nice":false,"zero":false},"axis":null},"size":{"field":"s1","type":"quantitative","scale":{"type":"pow","exponent":1.6,"domain":[0,0.5],"range":[0,17]},"legend":null},"color":{"field":"t","type":"nominal","scale":{"domain":["NARMA5","NARMA10","NARMA15","SinCos-1","SinCos-2","Chaos","VDP"],"range":["#ff0000","#0000ff","#ffa500","#008000","#a52a2a","#00ffff","#9370db"]},"legend":null}}}
],"resolve":{"scale":{"size":"independent"}}},
{"data":{"name":"cN1"},"transform":[{"aggregate":[{"op":"q1","field":"v","as":"q1"},{"op":"median","field":"v","as":"median"},{"op":"q3","field":"v","as":"q3"}],"groupby":["t"]},{"fold":["q1","median","q3"],"as":["qk","qv"]}],"mark":{"type":"rule","color":"#333333","strokeWidth":1.3,"xOffset":-7,"x2Offset":7},"encoding":{"x":{"field":"t","type":"nominal","scale":{"type":"band","domain":["NARMA5","NARMA10","NARMA15","SinCos-1","SinCos-2","Chaos","VDP"],"paddingInner":0,"paddingOuter":0.886},"axis":{"orient":"top","labels":false,"ticks":false,"title":null}},"x2":{"field":"t"},"y":{"field":"qv","type":"quantitative","scale":{"domain":[-0.219,0.98],"nice":false,"zero":false},"axis":null},"strokeDash":{"field":"qk","type":"nominal","scale":{"domain":["q1","median","q3"],"range":[[2,2],[5,3],[2,2]]},"legend":null}}},
{"data":{"name":"cN1"},"mark":"point","encoding":{"x":{"field":"t","type":"nominal","scale":{"type":"band","domain":["NARMA5","NARMA10","NARMA15","SinCos-1","SinCos-2","Chaos","VDP"],"paddingInner":0,"paddingOuter":0.886},"axis":null},"y":{"field":"v","type":"quantitative","scale":{"domain":[-0.219,0.98],"nice":false,"zero":false},"axis":null}}},
{"data":{"name":"refs"},"transform":[{"filter":"datum.p == 'c'"}],"mark":"rule","encoding":{"y":{"field":"v","type":"quantitative","scale":{"domain":[-0.219,0.98],"nice":false,"zero":false},"axis":null},"stroke":{"field":"k","type":"nominal","scale":{"domain":["pink","blue","grey","black"],"range":["#ffb6c1","#1e9bff","#a8a8a8","#000000"]},"legend":null},"strokeDash":{"field":"k","type":"nominal","scale":{"domain":["pink","blue","grey","black"],"range":[[6,4],[6,4],[1,0],[6,4]]},"legend":null},"strokeWidth":{"field":"k","type":"ordinal","scale":{"domain":["pink","blue","grey","black"],"range":[2.2,2.2,3,2.4]},"legend":null}}}
],"resolve":{"axis":{"x":"independent","y":"independent"},"scale":{"strokeDash":"independent"}}},
{"width":168,"height":434,"layer":[
{"data":{"name":"cN2"},"transform":[{"aggregate":[{"op":"min","field":"v","as":"lo"},{"op":"max","field":"v","as":"hi"}],"groupby":["t"]}],"mark":{"type":"rule","color":"#3d3d3d","strokeWidth":2},"encoding":{"x":{"field":"t","type":"nominal","scale":{"type":"band","domain":["NARMA5","NARMA10","NARMA15","SinCos-1","SinCos-2","Chaos","VDP"],"paddingInner":0,"paddingOuter":0.886},"axis":null},"y":{"field":"lo","type":"quantitative","scale":{"domain":[-0.219,0.98],"nice":false,"zero":false},"axis":null},"y2":{"field":"hi"}}},
{"data":{"name":"cN2"},"transform":[{"density":"v","groupby":["t"],"extent":[-0.219,0.98],"steps":200,"as":["y","d"]},{"joinaggregate":[{"op":"max","field":"d","as":"dm"}],"groupby":["t"]},{"fold":["d","dm"],"as":["key","val"]},{"stack":"val","groupby":["t","y"],"sort":[{"field":"key","order":"ascending"}],"offset":"normalize","as":["s0","s1"]},{"filter":"datum.key == 'd' && datum.s1 > 0.01"}],"layer":[
{"mark":{"type":"tick","color":"#3d3d3d"},"encoding":{"x":{"field":"t","type":"nominal","scale":{"type":"band","domain":["NARMA5","NARMA10","NARMA15","SinCos-1","SinCos-2","Chaos","VDP"],"paddingInner":0,"paddingOuter":0.886},"axis":{"orient":"bottom","values":["SinCos-1"],"labelExpr":"'N2'","title":"Models","titleX":31,"titlePadding":4}},"y":{"field":"y","type":"quantitative","scale":{"domain":[-0.219,0.98],"nice":false,"zero":false},"axis":null},"size":{"field":"s1","type":"quantitative","scale":{"type":"pow","exponent":1.6,"domain":[0,0.5],"range":[3,20]},"legend":null}}},
{"mark":{"type":"tick"},"encoding":{"x":{"field":"t","type":"nominal","scale":{"type":"band","domain":["NARMA5","NARMA10","NARMA15","SinCos-1","SinCos-2","Chaos","VDP"],"paddingInner":0,"paddingOuter":0.886},"axis":{"orient":"bottom","values":["SinCos-1"],"labelExpr":"'N2'","title":"Models","titleX":31,"titlePadding":4}},"y":{"field":"y","type":"quantitative","scale":{"domain":[-0.219,0.98],"nice":false,"zero":false},"axis":null},"size":{"field":"s1","type":"quantitative","scale":{"type":"pow","exponent":1.6,"domain":[0,0.5],"range":[0,17]},"legend":null},"color":{"field":"t","type":"nominal","scale":{"domain":["NARMA5","NARMA10","NARMA15","SinCos-1","SinCos-2","Chaos","VDP"],"range":["#ff0000","#0000ff","#ffa500","#008000","#a52a2a","#00ffff","#9370db"]},"legend":null}}}
],"resolve":{"scale":{"size":"independent"}}},
{"data":{"name":"cN2"},"transform":[{"aggregate":[{"op":"q1","field":"v","as":"q1"},{"op":"median","field":"v","as":"median"},{"op":"q3","field":"v","as":"q3"}],"groupby":["t"]},{"fold":["q1","median","q3"],"as":["qk","qv"]}],"mark":{"type":"rule","color":"#333333","strokeWidth":1.3,"xOffset":-7,"x2Offset":7},"encoding":{"x":{"field":"t","type":"nominal","scale":{"type":"band","domain":["NARMA5","NARMA10","NARMA15","SinCos-1","SinCos-2","Chaos","VDP"],"paddingInner":0,"paddingOuter":0.886},"axis":{"orient":"top","labels":false,"ticks":false,"title":null}},"x2":{"field":"t"},"y":{"field":"qv","type":"quantitative","scale":{"domain":[-0.219,0.98],"nice":false,"zero":false},"axis":null},"strokeDash":{"field":"qk","type":"nominal","scale":{"domain":["q1","median","q3"],"range":[[2,2],[5,3],[2,2]]},"legend":null}}},
{"data":{"name":"cN2"},"mark":"point","encoding":{"x":{"field":"t","type":"nominal","scale":{"type":"band","domain":["NARMA5","NARMA10","NARMA15","SinCos-1","SinCos-2","Chaos","VDP"],"paddingInner":0,"paddingOuter":0.886},"axis":null},"y":{"field":"v","type":"quantitative","scale":{"domain":[-0.219,0.98],"nice":false,"zero":false},"axis":null}}},
{"data":{"name":"refs"},"transform":[{"filter":"datum.p == 'c'"}],"mark":"rule","encoding":{"y":{"field":"v","type":"quantitative","scale":{"domain":[-0.219,0.98],"nice":false,"zero":false},"axis":null},"stroke":{"field":"k","type":"nominal","scale":{"domain":["pink","blue","grey","black"],"range":["#ffb6c1","#1e9bff","#a8a8a8","#000000"]},"legend":null},"strokeDash":{"field":"k","type":"nominal","scale":{"domain":["pink","blue","grey","black"],"range":[[6,4],[6,4],[1,0],[6,4]]},"legend":null},"strokeWidth":{"field":"k","type":"ordinal","scale":{"domain":["pink","blue","grey","black"],"range":[2.2,2.2,3,2.4]},"legend":null}}}
],"resolve":{"axis":{"x":"independent","y":"independent"},"scale":{"strokeDash":"independent"}}},
{"width":167,"height":434,"layer":[
{"data":{"name":"cN3"},"transform":[{"aggregate":[{"op":"min","field":"v","as":"lo"},{"op":"max","field":"v","as":"hi"}],"groupby":["t"]}],"mark":{"type":"rule","color":"#3d3d3d","strokeWidth":2},"encoding":{"x":{"field":"t","type":"nominal","scale":{"type":"band","domain":["NARMA5","NARMA10","NARMA15","SinCos-1","SinCos-2","Chaos","VDP"],"paddingInner":0,"paddingOuter":0.886},"axis":null},"y":{"field":"lo","type":"quantitative","scale":{"domain":[-0.219,0.98],"nice":false,"zero":false},"axis":null},"y2":{"field":"hi"}}},
{"data":{"name":"cN3"},"transform":[{"density":"v","groupby":["t"],"extent":[-0.219,0.98],"steps":200,"as":["y","d"]},{"joinaggregate":[{"op":"max","field":"d","as":"dm"}],"groupby":["t"]},{"fold":["d","dm"],"as":["key","val"]},{"stack":"val","groupby":["t","y"],"sort":[{"field":"key","order":"ascending"}],"offset":"normalize","as":["s0","s1"]},{"filter":"datum.key == 'd' && datum.s1 > 0.01"}],"layer":[
{"mark":{"type":"tick","color":"#3d3d3d"},"encoding":{"x":{"field":"t","type":"nominal","scale":{"type":"band","domain":["NARMA5","NARMA10","NARMA15","SinCos-1","SinCos-2","Chaos","VDP"],"paddingInner":0,"paddingOuter":0.886},"axis":{"orient":"bottom","values":["SinCos-1"],"labelExpr":"'N3'","title":null}},"y":{"field":"y","type":"quantitative","scale":{"domain":[-0.219,0.98],"nice":false,"zero":false},"axis":null},"size":{"field":"s1","type":"quantitative","scale":{"type":"pow","exponent":1.6,"domain":[0,0.5],"range":[3,20]},"legend":null}}},
{"mark":{"type":"tick"},"encoding":{"x":{"field":"t","type":"nominal","scale":{"type":"band","domain":["NARMA5","NARMA10","NARMA15","SinCos-1","SinCos-2","Chaos","VDP"],"paddingInner":0,"paddingOuter":0.886},"axis":{"orient":"bottom","values":["SinCos-1"],"labelExpr":"'N3'","title":null}},"y":{"field":"y","type":"quantitative","scale":{"domain":[-0.219,0.98],"nice":false,"zero":false},"axis":null},"size":{"field":"s1","type":"quantitative","scale":{"type":"pow","exponent":1.6,"domain":[0,0.5],"range":[0,17]},"legend":null},"color":{"field":"t","type":"nominal","scale":{"domain":["NARMA5","NARMA10","NARMA15","SinCos-1","SinCos-2","Chaos","VDP"],"range":["#ff0000","#0000ff","#ffa500","#008000","#a52a2a","#00ffff","#9370db"]},"legend":null}}}
],"resolve":{"scale":{"size":"independent"}}},
{"data":{"name":"cN3"},"transform":[{"aggregate":[{"op":"q1","field":"v","as":"q1"},{"op":"median","field":"v","as":"median"},{"op":"q3","field":"v","as":"q3"}],"groupby":["t"]},{"fold":["q1","median","q3"],"as":["qk","qv"]}],"mark":{"type":"rule","color":"#333333","strokeWidth":1.3,"xOffset":-7,"x2Offset":7},"encoding":{"x":{"field":"t","type":"nominal","scale":{"type":"band","domain":["NARMA5","NARMA10","NARMA15","SinCos-1","SinCos-2","Chaos","VDP"],"paddingInner":0,"paddingOuter":0.886},"axis":{"orient":"top","labels":false,"ticks":false,"title":null}},"x2":{"field":"t"},"y":{"field":"qv","type":"quantitative","scale":{"domain":[-0.219,0.98],"nice":false,"zero":false},"axis":{"orient":"right","labels":false,"ticks":false,"title":null}},"strokeDash":{"field":"qk","type":"nominal","scale":{"domain":["q1","median","q3"],"range":[[2,2],[5,3],[2,2]]},"legend":null}}},
{"data":{"name":"cN3"},"mark":"point","encoding":{"x":{"field":"t","type":"nominal","scale":{"type":"band","domain":["NARMA5","NARMA10","NARMA15","SinCos-1","SinCos-2","Chaos","VDP"],"paddingInner":0,"paddingOuter":0.886},"axis":null},"y":{"field":"v","type":"quantitative","scale":{"domain":[-0.219,0.98],"nice":false,"zero":false},"axis":null}}},
{"data":{"name":"refs"},"transform":[{"filter":"datum.p == 'c'"}],"mark":"rule","encoding":{"y":{"field":"v","type":"quantitative","scale":{"domain":[-0.219,0.98],"nice":false,"zero":false},"axis":null},"stroke":{"field":"k","type":"nominal","scale":{"domain":["pink","blue","grey","black"],"range":["#ffb6c1","#1e9bff","#a8a8a8","#000000"]},"legend":null},"strokeDash":{"field":"k","type":"nominal","scale":{"domain":["pink","blue","grey","black"],"range":[[6,4],[6,4],[1,0],[6,4]]},"legend":null},"strokeWidth":{"field":"k","type":"ordinal","scale":{"domain":["pink","blue","grey","black"],"range":[2.2,2.2,3,2.4]},"legend":null}}}
],"resolve":{"axis":{"x":"independent","y":"independent"},"scale":{"strokeDash":"independent"}}},
{"width":116.6,"height":434,"data":{"values":[]},"mark":"point"},
{"width":81,"height":434,"title":{"text":"d","anchor":"start","frame":"bounds","fontSize":56,"baseline":"alphabetic","offset":-55},"layer":[
{"data":{"name":"dN0"},"transform":[{"aggregate":[{"op":"min","field":"v","as":"lo"},{"op":"max","field":"v","as":"hi"}],"groupby":["t"]}],"mark":{"type":"rule","color":"#3a3a3a","strokeWidth":5},"encoding":{"x":{"field":"t","type":"nominal","scale":{"type":"band","domain":["N0"],"paddingInner":0,"paddingOuter":0.25,"align":0.715},"axis":null},"y":{"field":"lo","type":"quantitative","scale":{"domain":[-0.18,0.55],"nice":false,"zero":false},"axis":null},"y2":{"field":"hi"}}},
{"data":{"name":"dN0"},"transform":[{"density":"v","groupby":["t"],"extent":[-0.18,0.55],"steps":200,"as":["y","d"]},{"joinaggregate":[{"op":"max","field":"d","as":"dm"}],"groupby":["t"]},{"fold":["d","dm"],"as":["key","val"]},{"stack":"val","groupby":["t","y"],"sort":[{"field":"key","order":"ascending"}],"offset":"normalize","as":["s0","s1"]},{"filter":"datum.key == 'd' && datum.s1 > 0.01"}],"layer":[
{"mark":{"type":"tick","color":"#3a3a3a"},"encoding":{"x":{"field":"t","type":"nominal","scale":{"type":"band","domain":["N0"],"paddingInner":0,"paddingOuter":0.25,"align":0.715},"axis":{"orient":"bottom","title":null}},"y":{"field":"y","type":"quantitative","scale":{"domain":[-0.18,0.55],"nice":false,"zero":false},"axis":{"orient":"left","title":"Unique Nodes [1 - (IuO)/N]","values":[-0.1,0,0.1,0.2,0.3,0.4,0.5],"format":".1f","titleX":-58,"titleY":237,"titleAngle":270,"titleBaseline":"bottom","titleAlign":"center"}},"size":{"field":"s1","type":"quantitative","scale":{"type":"pow","exponent":1.6,"domain":[0,0.5],"range":[5,53]},"legend":null}}},
{"mark":{"type":"tick","color":"#d3d3d3"},"encoding":{"x":{"field":"t","type":"nominal","scale":{"type":"band","domain":["N0"],"paddingInner":0,"paddingOuter":0.25,"align":0.715},"axis":{"orient":"bottom","title":null}},"y":{"field":"y","type":"quantitative","scale":{"domain":[-0.18,0.55],"nice":false,"zero":false},"axis":{"orient":"left","title":"Unique Nodes [1 - (IuO)/N]","values":[-0.1,0,0.1,0.2,0.3,0.4,0.5],"format":".1f","titleX":-58,"titleY":237,"titleAngle":270,"titleBaseline":"bottom","titleAlign":"center"}},"size":{"field":"s1","type":"quantitative","scale":{"type":"pow","exponent":1.6,"domain":[0,0.5],"range":[0,48]},"legend":null}}}
],"resolve":{"scale":{"size":"independent"}}},
{"data":{"name":"dN0"},"transform":[{"aggregate":[{"op":"q1","field":"v","as":"q1"},{"op":"median","field":"v","as":"median"},{"op":"q3","field":"v","as":"q3"}],"groupby":["t"]},{"fold":["q1","median","q3"],"as":["qk","qv"]}],"mark":{"type":"rule","color":"#333333","strokeWidth":1.3,"xOffset":-18,"x2Offset":18},"encoding":{"x":{"field":"t","type":"nominal","scale":{"type":"band","domain":["N0"],"paddingInner":0,"paddingOuter":0.25,"align":0.715},"axis":{"orient":"top","labels":false,"ticks":false,"title":null}},"x2":{"field":"t"},"y":{"field":"qv","type":"quantitative","scale":{"domain":[-0.18,0.55],"nice":false,"zero":false},"axis":null},"strokeDash":{"field":"qk","type":"nominal","scale":{"domain":["q1","median","q3"],"range":[[2,2],[5,3],[2,2]]},"legend":null}}},
{"data":{"name":"dN0"},"mark":"point","encoding":{"x":{"field":"t","type":"nominal","scale":{"type":"band","domain":["N0"],"paddingInner":0,"paddingOuter":0.25,"align":0.715},"axis":null},"y":{"field":"v","type":"quantitative","scale":{"domain":[-0.18,0.55],"nice":false,"zero":false},"axis":null}}},
{"data":{"name":"refs"},"transform":[{"filter":"datum.p == 'd'"}],"mark":"rule","encoding":{"y":{"field":"v","type":"quantitative","scale":{"domain":[-0.18,0.55],"nice":false,"zero":false},"axis":null},"stroke":{"field":"k","type":"nominal","scale":{"domain":["pink","blue","grey","black"],"range":["#ffb6c1","#1e9bff","#a8a8a8","#000000"]},"legend":null},"strokeDash":{"field":"k","type":"nominal","scale":{"domain":["pink","blue","grey","black"],"range":[[6,4],[6,4],[1,0],[6,4]]},"legend":null},"strokeWidth":{"field":"k","type":"ordinal","scale":{"domain":["pink","blue","grey","black"],"range":[2.2,2.2,3,2.4]},"legend":null}}}
],"resolve":{"axis":{"x":"independent","y":"independent"},"scale":{"strokeDash":"independent"}}},
{"width":168,"height":434,"layer":[
{"data":{"name":"dN1"},"transform":[{"aggregate":[{"op":"min","field":"v","as":"lo"},{"op":"max","field":"v","as":"hi"}],"groupby":["t"]}],"mark":{"type":"rule","color":"#3d3d3d","strokeWidth":2},"encoding":{"x":{"field":"t","type":"nominal","scale":{"type":"band","domain":["NARMA5","NARMA10","NARMA15","SinCos-1","SinCos-2","Chaos","VDP"],"paddingInner":0,"paddingOuter":0.886},"axis":null},"y":{"field":"lo","type":"quantitative","scale":{"domain":[-0.18,0.55],"nice":false,"zero":false},"axis":null},"y2":{"field":"hi"}}},
{"data":{"name":"dN1"},"transform":[{"density":"v","groupby":["t"],"extent":[-0.18,0.55],"steps":200,"as":["y","d"]},{"joinaggregate":[{"op":"max","field":"d","as":"dm"}],"groupby":["t"]},{"fold":["d","dm"],"as":["key","val"]},{"stack":"val","groupby":["t","y"],"sort":[{"field":"key","order":"ascending"}],"offset":"normalize","as":["s0","s1"]},{"filter":"datum.key == 'd' && datum.s1 > 0.01"}],"layer":[
{"mark":{"type":"tick","color":"#3d3d3d"},"encoding":{"x":{"field":"t","type":"nominal","scale":{"type":"band","domain":["NARMA5","NARMA10","NARMA15","SinCos-1","SinCos-2","Chaos","VDP"],"paddingInner":0,"paddingOuter":0.886},"axis":{"orient":"bottom","values":["SinCos-1"],"labelExpr":"'N1'","title":null}},"y":{"field":"y","type":"quantitative","scale":{"domain":[-0.18,0.55],"nice":false,"zero":false},"axis":null},"size":{"field":"s1","type":"quantitative","scale":{"type":"pow","exponent":1.6,"domain":[0,0.5],"range":[3,20]},"legend":null}}},
{"mark":{"type":"tick"},"encoding":{"x":{"field":"t","type":"nominal","scale":{"type":"band","domain":["NARMA5","NARMA10","NARMA15","SinCos-1","SinCos-2","Chaos","VDP"],"paddingInner":0,"paddingOuter":0.886},"axis":{"orient":"bottom","values":["SinCos-1"],"labelExpr":"'N1'","title":null}},"y":{"field":"y","type":"quantitative","scale":{"domain":[-0.18,0.55],"nice":false,"zero":false},"axis":null},"size":{"field":"s1","type":"quantitative","scale":{"type":"pow","exponent":1.6,"domain":[0,0.5],"range":[0,17]},"legend":null},"color":{"field":"t","type":"nominal","scale":{"domain":["NARMA5","NARMA10","NARMA15","SinCos-1","SinCos-2","Chaos","VDP"],"range":["#ff0000","#0000ff","#ffa500","#008000","#a52a2a","#00ffff","#9370db"]},"legend":null}}}
],"resolve":{"scale":{"size":"independent"}}},
{"data":{"name":"dN1"},"transform":[{"aggregate":[{"op":"q1","field":"v","as":"q1"},{"op":"median","field":"v","as":"median"},{"op":"q3","field":"v","as":"q3"}],"groupby":["t"]},{"fold":["q1","median","q3"],"as":["qk","qv"]}],"mark":{"type":"rule","color":"#333333","strokeWidth":1.3,"xOffset":-7,"x2Offset":7},"encoding":{"x":{"field":"t","type":"nominal","scale":{"type":"band","domain":["NARMA5","NARMA10","NARMA15","SinCos-1","SinCos-2","Chaos","VDP"],"paddingInner":0,"paddingOuter":0.886},"axis":{"orient":"top","labels":false,"ticks":false,"title":null}},"x2":{"field":"t"},"y":{"field":"qv","type":"quantitative","scale":{"domain":[-0.18,0.55],"nice":false,"zero":false},"axis":null},"strokeDash":{"field":"qk","type":"nominal","scale":{"domain":["q1","median","q3"],"range":[[2,2],[5,3],[2,2]]},"legend":null}}},
{"data":{"name":"dN1"},"mark":"point","encoding":{"x":{"field":"t","type":"nominal","scale":{"type":"band","domain":["NARMA5","NARMA10","NARMA15","SinCos-1","SinCos-2","Chaos","VDP"],"paddingInner":0,"paddingOuter":0.886},"axis":null},"y":{"field":"v","type":"quantitative","scale":{"domain":[-0.18,0.55],"nice":false,"zero":false},"axis":null}}},
{"data":{"name":"refs"},"transform":[{"filter":"datum.p == 'd'"}],"mark":"rule","encoding":{"y":{"field":"v","type":"quantitative","scale":{"domain":[-0.18,0.55],"nice":false,"zero":false},"axis":null},"stroke":{"field":"k","type":"nominal","scale":{"domain":["pink","blue","grey","black"],"range":["#ffb6c1","#1e9bff","#a8a8a8","#000000"]},"legend":null},"strokeDash":{"field":"k","type":"nominal","scale":{"domain":["pink","blue","grey","black"],"range":[[6,4],[6,4],[1,0],[6,4]]},"legend":null},"strokeWidth":{"field":"k","type":"ordinal","scale":{"domain":["pink","blue","grey","black"],"range":[2.2,2.2,3,2.4]},"legend":null}}}
],"resolve":{"axis":{"x":"independent","y":"independent"},"scale":{"strokeDash":"independent"}}},
{"width":168,"height":434,"layer":[
{"data":{"name":"dN2"},"transform":[{"aggregate":[{"op":"min","field":"v","as":"lo"},{"op":"max","field":"v","as":"hi"}],"groupby":["t"]}],"mark":{"type":"rule","color":"#3d3d3d","strokeWidth":2},"encoding":{"x":{"field":"t","type":"nominal","scale":{"type":"band","domain":["NARMA5","NARMA10","NARMA15","SinCos-1","SinCos-2","Chaos","VDP"],"paddingInner":0,"paddingOuter":0.886},"axis":null},"y":{"field":"lo","type":"quantitative","scale":{"domain":[-0.18,0.55],"nice":false,"zero":false},"axis":null},"y2":{"field":"hi"}}},
{"data":{"name":"dN2"},"transform":[{"density":"v","groupby":["t"],"extent":[-0.18,0.55],"steps":200,"as":["y","d"]},{"joinaggregate":[{"op":"max","field":"d","as":"dm"}],"groupby":["t"]},{"fold":["d","dm"],"as":["key","val"]},{"stack":"val","groupby":["t","y"],"sort":[{"field":"key","order":"ascending"}],"offset":"normalize","as":["s0","s1"]},{"filter":"datum.key == 'd' && datum.s1 > 0.01"}],"layer":[
{"mark":{"type":"tick","color":"#3d3d3d"},"encoding":{"x":{"field":"t","type":"nominal","scale":{"type":"band","domain":["NARMA5","NARMA10","NARMA15","SinCos-1","SinCos-2","Chaos","VDP"],"paddingInner":0,"paddingOuter":0.886},"axis":{"orient":"bottom","values":["SinCos-1"],"labelExpr":"'N2'","title":"Models","titleX":28,"titlePadding":4}},"y":{"field":"y","type":"quantitative","scale":{"domain":[-0.18,0.55],"nice":false,"zero":false},"axis":null},"size":{"field":"s1","type":"quantitative","scale":{"type":"pow","exponent":1.6,"domain":[0,0.5],"range":[3,20]},"legend":null}}},
{"mark":{"type":"tick"},"encoding":{"x":{"field":"t","type":"nominal","scale":{"type":"band","domain":["NARMA5","NARMA10","NARMA15","SinCos-1","SinCos-2","Chaos","VDP"],"paddingInner":0,"paddingOuter":0.886},"axis":{"orient":"bottom","values":["SinCos-1"],"labelExpr":"'N2'","title":"Models","titleX":28,"titlePadding":4}},"y":{"field":"y","type":"quantitative","scale":{"domain":[-0.18,0.55],"nice":false,"zero":false},"axis":null},"size":{"field":"s1","type":"quantitative","scale":{"type":"pow","exponent":1.6,"domain":[0,0.5],"range":[0,17]},"legend":null},"color":{"field":"t","type":"nominal","scale":{"domain":["NARMA5","NARMA10","NARMA15","SinCos-1","SinCos-2","Chaos","VDP"],"range":["#ff0000","#0000ff","#ffa500","#008000","#a52a2a","#00ffff","#9370db"]},"legend":null}}}
],"resolve":{"scale":{"size":"independent"}}},
{"data":{"name":"dN2"},"transform":[{"aggregate":[{"op":"q1","field":"v","as":"q1"},{"op":"median","field":"v","as":"median"},{"op":"q3","field":"v","as":"q3"}],"groupby":["t"]},{"fold":["q1","median","q3"],"as":["qk","qv"]}],"mark":{"type":"rule","color":"#333333","strokeWidth":1.3,"xOffset":-7,"x2Offset":7},"encoding":{"x":{"field":"t","type":"nominal","scale":{"type":"band","domain":["NARMA5","NARMA10","NARMA15","SinCos-1","SinCos-2","Chaos","VDP"],"paddingInner":0,"paddingOuter":0.886},"axis":{"orient":"top","labels":false,"ticks":false,"title":null}},"x2":{"field":"t"},"y":{"field":"qv","type":"quantitative","scale":{"domain":[-0.18,0.55],"nice":false,"zero":false},"axis":null},"strokeDash":{"field":"qk","type":"nominal","scale":{"domain":["q1","median","q3"],"range":[[2,2],[5,3],[2,2]]},"legend":null}}},
{"data":{"name":"dN2"},"mark":"point","encoding":{"x":{"field":"t","type":"nominal","scale":{"type":"band","domain":["NARMA5","NARMA10","NARMA15","SinCos-1","SinCos-2","Chaos","VDP"],"paddingInner":0,"paddingOuter":0.886},"axis":null},"y":{"field":"v","type":"quantitative","scale":{"domain":[-0.18,0.55],"nice":false,"zero":false},"axis":null}}},
{"data":{"name":"refs"},"transform":[{"filter":"datum.p == 'd'"}],"mark":"rule","encoding":{"y":{"field":"v","type":"quantitative","scale":{"domain":[-0.18,0.55],"nice":false,"zero":false},"axis":null},"stroke":{"field":"k","type":"nominal","scale":{"domain":["pink","blue","grey","black"],"range":["#ffb6c1","#1e9bff","#a8a8a8","#000000"]},"legend":null},"strokeDash":{"field":"k","type":"nominal","scale":{"domain":["pink","blue","grey","black"],"range":[[6,4],[6,4],[1,0],[6,4]]},"legend":null},"strokeWidth":{"field":"k","type":"ordinal","scale":{"domain":["pink","blue","grey","black"],"range":[2.2,2.2,3,2.4]},"legend":null}}}
],"resolve":{"axis":{"x":"independent","y":"independent"},"scale":{"strokeDash":"independent"}}},
{"width":167,"height":434,"layer":[
{"data":{"name":"dN3"},"transform":[{"aggregate":[{"op":"min","field":"v","as":"lo"},{"op":"max","field":"v","as":"hi"}],"groupby":["t"]}],"mark":{"type":"rule","color":"#3d3d3d","strokeWidth":2},"encoding":{"x":{"field":"t","type":"nominal","scale":{"type":"band","domain":["NARMA5","NARMA10","NARMA15","SinCos-1","SinCos-2","Chaos","VDP"],"paddingInner":0,"paddingOuter":0.886},"axis":null},"y":{"field":"lo","type":"quantitative","scale":{"domain":[-0.18,0.55],"nice":false,"zero":false},"axis":null},"y2":{"field":"hi"}}},
{"data":{"name":"dN3"},"transform":[{"density":"v","groupby":["t"],"extent":[-0.18,0.55],"steps":200,"as":["y","d"]},{"joinaggregate":[{"op":"max","field":"d","as":"dm"}],"groupby":["t"]},{"fold":["d","dm"],"as":["key","val"]},{"stack":"val","groupby":["t","y"],"sort":[{"field":"key","order":"ascending"}],"offset":"normalize","as":["s0","s1"]},{"filter":"datum.key == 'd' && datum.s1 > 0.01"}],"layer":[
{"mark":{"type":"tick","color":"#3d3d3d"},"encoding":{"x":{"field":"t","type":"nominal","scale":{"type":"band","domain":["NARMA5","NARMA10","NARMA15","SinCos-1","SinCos-2","Chaos","VDP"],"paddingInner":0,"paddingOuter":0.886},"axis":{"orient":"bottom","values":["SinCos-1"],"labelExpr":"'N3'","title":null}},"y":{"field":"y","type":"quantitative","scale":{"domain":[-0.18,0.55],"nice":false,"zero":false},"axis":null},"size":{"field":"s1","type":"quantitative","scale":{"type":"pow","exponent":1.6,"domain":[0,0.5],"range":[3,20]},"legend":null}}},
{"mark":{"type":"tick"},"encoding":{"x":{"field":"t","type":"nominal","scale":{"type":"band","domain":["NARMA5","NARMA10","NARMA15","SinCos-1","SinCos-2","Chaos","VDP"],"paddingInner":0,"paddingOuter":0.886},"axis":{"orient":"bottom","values":["SinCos-1"],"labelExpr":"'N3'","title":null}},"y":{"field":"y","type":"quantitative","scale":{"domain":[-0.18,0.55],"nice":false,"zero":false},"axis":null},"size":{"field":"s1","type":"quantitative","scale":{"type":"pow","exponent":1.6,"domain":[0,0.5],"range":[0,17]},"legend":null},"color":{"field":"t","type":"nominal","scale":{"domain":["NARMA5","NARMA10","NARMA15","SinCos-1","SinCos-2","Chaos","VDP"],"range":["#ff0000","#0000ff","#ffa500","#008000","#a52a2a","#00ffff","#9370db"]},"legend":null}}}
],"resolve":{"scale":{"size":"independent"}}},
{"data":{"name":"dN3"},"transform":[{"aggregate":[{"op":"q1","field":"v","as":"q1"},{"op":"median","field":"v","as":"median"},{"op":"q3","field":"v","as":"q3"}],"groupby":["t"]},{"fold":["q1","median","q3"],"as":["qk","qv"]}],"mark":{"type":"rule","color":"#333333","strokeWidth":1.3,"xOffset":-7,"x2Offset":7},"encoding":{"x":{"field":"t","type":"nominal","scale":{"type":"band","domain":["NARMA5","NARMA10","NARMA15","SinCos-1","SinCos-2","Chaos","VDP"],"paddingInner":0,"paddingOuter":0.886},"axis":{"orient":"top","labels":false,"ticks":false,"title":null}},"x2":{"field":"t"},"y":{"field":"qv","type":"quantitative","scale":{"domain":[-0.18,0.55],"nice":false,"zero":false},"axis":{"orient":"right","labels":false,"ticks":false,"title":null}},"strokeDash":{"field":"qk","type":"nominal","scale":{"domain":["q1","median","q3"],"range":[[2,2],[5,3],[2,2]]},"legend":null}}},
{"data":{"name":"dN3"},"mark":"point","encoding":{"x":{"field":"t","type":"nominal","scale":{"type":"band","domain":["NARMA5","NARMA10","NARMA15","SinCos-1","SinCos-2","Chaos","VDP"],"paddingInner":0,"paddingOuter":0.886},"axis":null},"y":{"field":"v","type":"quantitative","scale":{"domain":[-0.18,0.55],"nice":false,"zero":false},"axis":null}}},
{"data":{"name":"refs"},"transform":[{"filter":"datum.p == 'd'"}],"mark":"rule","encoding":{"y":{"field":"v","type":"quantitative","scale":{"domain":[-0.18,0.55],"nice":false,"zero":false},"axis":null},"stroke":{"field":"k","type":"nominal","scale":{"domain":["pink","blue","grey","black"],"range":["#ffb6c1","#1e9bff","#a8a8a8","#000000"]},"legend":null},"strokeDash":{"field":"k","type":"nominal","scale":{"domain":["pink","blue","grey","black"],"range":[[6,4],[6,4],[1,0],[6,4]]},"legend":null},"strokeWidth":{"field":"k","type":"ordinal","scale":{"domain":["pink","blue","grey","black"],"range":[2.2,2.2,3,2.4]},"legend":null}}}
],"resolve":{"axis":{"x":"independent","y":"independent"},"scale":{"strokeDash":"independent"}}}
],"columns":9,"spacing":{"row":88.3,"column":0},"bounds":"flush","resolve":{"scale":{"color":"independent"},"legend":{"color":"independent"}}}
